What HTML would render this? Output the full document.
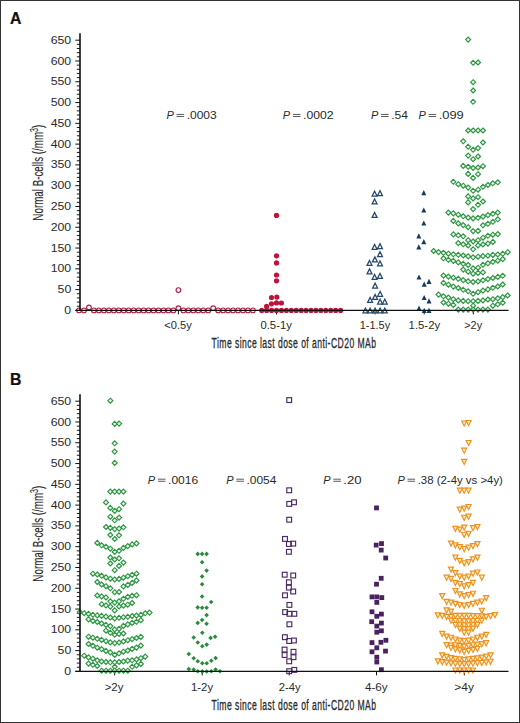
<!DOCTYPE html>
<html><head><meta charset="utf-8"><title>B-cells</title>
<style>
html,body{margin:0;padding:0;background:#fff;}
body{width:520px;height:723px;overflow:hidden;}
#f{position:absolute;left:0;top:0;width:520px;height:723px;box-sizing:border-box;border:1px solid #333;}
svg{position:absolute;left:0;top:0;}
text{font-family:"Liberation Sans",sans-serif;}
</style></head>
<body><div id="f"></div>
<svg width="520" height="723" viewBox="0 0 520 723" font-family="Liberation Sans, sans-serif">
<text transform="translate(9.9 23.8) scale(0.97 1)" font-size="16.3" font-weight="bold" fill="#111" stroke="#111" stroke-width="0.25">A</text>
<line x1="75.3" y1="310.4" x2="80" y2="310.4" stroke="#111" stroke-width="1"/>
<line x1="76.8" y1="306.24" x2="80" y2="306.24" stroke="#111" stroke-width="0.95"/>
<line x1="76.8" y1="302.09" x2="80" y2="302.09" stroke="#111" stroke-width="0.95"/>
<line x1="76.8" y1="297.93" x2="80" y2="297.93" stroke="#111" stroke-width="0.95"/>
<line x1="76.8" y1="293.77" x2="80" y2="293.77" stroke="#111" stroke-width="0.95"/>
<line x1="75.3" y1="289.61" x2="80" y2="289.61" stroke="#111" stroke-width="1"/>
<line x1="76.8" y1="285.46" x2="80" y2="285.46" stroke="#111" stroke-width="0.95"/>
<line x1="76.8" y1="281.3" x2="80" y2="281.3" stroke="#111" stroke-width="0.95"/>
<line x1="76.8" y1="277.14" x2="80" y2="277.14" stroke="#111" stroke-width="0.95"/>
<line x1="76.8" y1="272.99" x2="80" y2="272.99" stroke="#111" stroke-width="0.95"/>
<line x1="75.3" y1="268.83" x2="80" y2="268.83" stroke="#111" stroke-width="1"/>
<line x1="76.8" y1="264.67" x2="80" y2="264.67" stroke="#111" stroke-width="0.95"/>
<line x1="76.8" y1="260.52" x2="80" y2="260.52" stroke="#111" stroke-width="0.95"/>
<line x1="76.8" y1="256.36" x2="80" y2="256.36" stroke="#111" stroke-width="0.95"/>
<line x1="76.8" y1="252.2" x2="80" y2="252.2" stroke="#111" stroke-width="0.95"/>
<line x1="75.3" y1="248.04" x2="80" y2="248.04" stroke="#111" stroke-width="1"/>
<line x1="76.8" y1="243.89" x2="80" y2="243.89" stroke="#111" stroke-width="0.95"/>
<line x1="76.8" y1="239.73" x2="80" y2="239.73" stroke="#111" stroke-width="0.95"/>
<line x1="76.8" y1="235.57" x2="80" y2="235.57" stroke="#111" stroke-width="0.95"/>
<line x1="76.8" y1="231.42" x2="80" y2="231.42" stroke="#111" stroke-width="0.95"/>
<line x1="75.3" y1="227.26" x2="80" y2="227.26" stroke="#111" stroke-width="1"/>
<line x1="76.8" y1="223.1" x2="80" y2="223.1" stroke="#111" stroke-width="0.95"/>
<line x1="76.8" y1="218.95" x2="80" y2="218.95" stroke="#111" stroke-width="0.95"/>
<line x1="76.8" y1="214.79" x2="80" y2="214.79" stroke="#111" stroke-width="0.95"/>
<line x1="76.8" y1="210.63" x2="80" y2="210.63" stroke="#111" stroke-width="0.95"/>
<line x1="75.3" y1="206.47" x2="80" y2="206.47" stroke="#111" stroke-width="1"/>
<line x1="76.8" y1="202.32" x2="80" y2="202.32" stroke="#111" stroke-width="0.95"/>
<line x1="76.8" y1="198.16" x2="80" y2="198.16" stroke="#111" stroke-width="0.95"/>
<line x1="76.8" y1="194" x2="80" y2="194" stroke="#111" stroke-width="0.95"/>
<line x1="76.8" y1="189.85" x2="80" y2="189.85" stroke="#111" stroke-width="0.95"/>
<line x1="75.3" y1="185.69" x2="80" y2="185.69" stroke="#111" stroke-width="1"/>
<line x1="76.8" y1="181.53" x2="80" y2="181.53" stroke="#111" stroke-width="0.95"/>
<line x1="76.8" y1="177.38" x2="80" y2="177.38" stroke="#111" stroke-width="0.95"/>
<line x1="76.8" y1="173.22" x2="80" y2="173.22" stroke="#111" stroke-width="0.95"/>
<line x1="76.8" y1="169.06" x2="80" y2="169.06" stroke="#111" stroke-width="0.95"/>
<line x1="75.3" y1="164.9" x2="80" y2="164.9" stroke="#111" stroke-width="1"/>
<line x1="76.8" y1="160.75" x2="80" y2="160.75" stroke="#111" stroke-width="0.95"/>
<line x1="76.8" y1="156.59" x2="80" y2="156.59" stroke="#111" stroke-width="0.95"/>
<line x1="76.8" y1="152.43" x2="80" y2="152.43" stroke="#111" stroke-width="0.95"/>
<line x1="76.8" y1="148.28" x2="80" y2="148.28" stroke="#111" stroke-width="0.95"/>
<line x1="75.3" y1="144.12" x2="80" y2="144.12" stroke="#111" stroke-width="1"/>
<line x1="76.8" y1="139.96" x2="80" y2="139.96" stroke="#111" stroke-width="0.95"/>
<line x1="76.8" y1="135.81" x2="80" y2="135.81" stroke="#111" stroke-width="0.95"/>
<line x1="76.8" y1="131.65" x2="80" y2="131.65" stroke="#111" stroke-width="0.95"/>
<line x1="76.8" y1="127.49" x2="80" y2="127.49" stroke="#111" stroke-width="0.95"/>
<line x1="75.3" y1="123.33" x2="80" y2="123.33" stroke="#111" stroke-width="1"/>
<line x1="76.8" y1="119.18" x2="80" y2="119.18" stroke="#111" stroke-width="0.95"/>
<line x1="76.8" y1="115.02" x2="80" y2="115.02" stroke="#111" stroke-width="0.95"/>
<line x1="76.8" y1="110.86" x2="80" y2="110.86" stroke="#111" stroke-width="0.95"/>
<line x1="76.8" y1="106.71" x2="80" y2="106.71" stroke="#111" stroke-width="0.95"/>
<line x1="75.3" y1="102.55" x2="80" y2="102.55" stroke="#111" stroke-width="1"/>
<line x1="76.8" y1="98.39" x2="80" y2="98.39" stroke="#111" stroke-width="0.95"/>
<line x1="76.8" y1="94.24" x2="80" y2="94.24" stroke="#111" stroke-width="0.95"/>
<line x1="76.8" y1="90.08" x2="80" y2="90.08" stroke="#111" stroke-width="0.95"/>
<line x1="76.8" y1="85.92" x2="80" y2="85.92" stroke="#111" stroke-width="0.95"/>
<line x1="75.3" y1="81.76" x2="80" y2="81.76" stroke="#111" stroke-width="1"/>
<line x1="76.8" y1="77.61" x2="80" y2="77.61" stroke="#111" stroke-width="0.95"/>
<line x1="76.8" y1="73.45" x2="80" y2="73.45" stroke="#111" stroke-width="0.95"/>
<line x1="76.8" y1="69.29" x2="80" y2="69.29" stroke="#111" stroke-width="0.95"/>
<line x1="76.8" y1="65.14" x2="80" y2="65.14" stroke="#111" stroke-width="0.95"/>
<line x1="75.3" y1="60.98" x2="80" y2="60.98" stroke="#111" stroke-width="1"/>
<line x1="76.8" y1="56.82" x2="80" y2="56.82" stroke="#111" stroke-width="0.95"/>
<line x1="76.8" y1="52.67" x2="80" y2="52.67" stroke="#111" stroke-width="0.95"/>
<line x1="76.8" y1="48.51" x2="80" y2="48.51" stroke="#111" stroke-width="0.95"/>
<line x1="76.8" y1="44.35" x2="80" y2="44.35" stroke="#111" stroke-width="0.95"/>
<line x1="75.3" y1="40.19" x2="80" y2="40.19" stroke="#111" stroke-width="1"/>
<text transform="translate(64.31 313.95) scale(1.16 1)" font-size="10.6" fill="#2a2a2a">0</text>
<text transform="translate(57.56 293.16) scale(1.16 1)" font-size="10.6" fill="#2a2a2a">50</text>
<text transform="translate(50.69 272.38) scale(1.16 1)" font-size="10.6" fill="#2a2a2a">100</text>
<text transform="translate(50.69 251.59) scale(1.16 1)" font-size="10.6" fill="#2a2a2a">150</text>
<text transform="translate(50.69 230.81) scale(1.16 1)" font-size="10.6" fill="#2a2a2a">200</text>
<text transform="translate(50.69 210.02) scale(1.16 1)" font-size="10.6" fill="#2a2a2a">250</text>
<text transform="translate(50.69 189.24) scale(1.16 1)" font-size="10.6" fill="#2a2a2a">300</text>
<text transform="translate(50.69 168.45) scale(1.16 1)" font-size="10.6" fill="#2a2a2a">350</text>
<text transform="translate(50.69 147.67) scale(1.16 1)" font-size="10.6" fill="#2a2a2a">400</text>
<text transform="translate(50.69 126.88) scale(1.16 1)" font-size="10.6" fill="#2a2a2a">450</text>
<text transform="translate(50.69 106.1) scale(1.16 1)" font-size="10.6" fill="#2a2a2a">500</text>
<text transform="translate(50.69 85.31) scale(1.16 1)" font-size="10.6" fill="#2a2a2a">550</text>
<text transform="translate(50.69 64.53) scale(1.16 1)" font-size="10.6" fill="#2a2a2a">600</text>
<text transform="translate(50.69 43.74) scale(1.16 1)" font-size="10.6" fill="#2a2a2a">650</text>
<line x1="178.4" y1="310.4" x2="178.4" y2="314.4" stroke="#111" stroke-width="1"/>
<line x1="276.5" y1="310.4" x2="276.5" y2="314.4" stroke="#111" stroke-width="1"/>
<line x1="375" y1="310.4" x2="375" y2="314.4" stroke="#111" stroke-width="1"/>
<line x1="424.2" y1="310.4" x2="424.2" y2="314.4" stroke="#111" stroke-width="1"/>
<line x1="473.3" y1="310.4" x2="473.3" y2="314.4" stroke="#111" stroke-width="1"/>
<text transform="translate(164.26 329.1) scale(1.048 1)" font-size="10.6" fill="#2a2a2a">&lt;0.5y</text>
<text transform="translate(260.46 329.1) scale(1.066 1)" font-size="10.6" fill="#2a2a2a">0.5-1y</text>
<text transform="translate(359.74 329.1) scale(1.032 1)" font-size="10.6" fill="#2a2a2a">1-1.5y</text>
<text transform="translate(408.61 329.1) scale(1.071 1)" font-size="10.6" fill="#2a2a2a">1.5-2y</text>
<text transform="translate(464.27 329.1) scale(1.028 1)" font-size="10.6" fill="#2a2a2a">&gt;2y</text>
<text transform="translate(211.6 348.3) scale(0.61 1)" font-size="14.1" letter-spacing="0.72" stroke="#2a2a2a" stroke-width="0.3" fill="#2a2a2a">Time since last dose of anti-CD20 MAb</text>
<text transform="translate(42.9 172.7) rotate(-90) scale(0.70 1)" text-anchor="middle" font-size="14" stroke="#2a2a2a" stroke-width="0.15" fill="#2a2a2a">Normal B-cells (/mm<tspan dy="-4.6" font-size="10">3</tspan><tspan dy="4.6">)</tspan></text>
<text transform="translate(166.38 118.7) scale(1.037 1)" font-size="10.6" fill="#2a2a2a"><tspan font-style="italic">P</tspan></text>
<rect x="176.5" y="113.95" width="7.6" height="0.8" fill="#333"/>
<rect x="176.5" y="116" width="7.6" height="0.8" fill="#333"/>
<text transform="translate(186.64 118.7) scale(1.137 1)" font-size="10.6" fill="#2a2a2a">.0003</text>
<text transform="translate(282.78 118.7) scale(1.037 1)" font-size="10.6" fill="#2a2a2a"><tspan font-style="italic">P</tspan></text>
<rect x="292.9" y="113.95" width="7.6" height="0.8" fill="#333"/>
<rect x="292.9" y="116" width="7.6" height="0.8" fill="#333"/>
<text transform="translate(303.02 118.7) scale(1.150 1)" font-size="10.6" fill="#2a2a2a">.0002</text>
<text transform="translate(370.88 118.7) scale(1.037 1)" font-size="10.6" fill="#2a2a2a"><tspan font-style="italic">P</tspan></text>
<rect x="381" y="113.95" width="7.6" height="0.8" fill="#333"/>
<rect x="381" y="116" width="7.6" height="0.8" fill="#333"/>
<text transform="translate(391.13 118.7) scale(1.140 1)" font-size="10.6" fill="#2a2a2a">.54</text>
<text transform="translate(418.48 118.7) scale(1.037 1)" font-size="10.6" fill="#2a2a2a"><tspan font-style="italic">P</tspan></text>
<rect x="428.6" y="113.95" width="7.6" height="0.8" fill="#333"/>
<rect x="428.6" y="116" width="7.6" height="0.8" fill="#333"/>
<text transform="translate(438.66 118.7) scale(1.217 1)" font-size="10.6" fill="#2a2a2a">.099</text>
<circle cx="79" cy="310.4" r="2.35" fill="none" stroke="#b01c44" stroke-width="1.1"/>
<circle cx="83.97" cy="310.4" r="2.35" fill="none" stroke="#b01c44" stroke-width="1.1"/>
<circle cx="88.94" cy="307.5" r="2.35" fill="none" stroke="#b01c44" stroke-width="1.1"/>
<circle cx="93.91" cy="310.4" r="2.35" fill="none" stroke="#b01c44" stroke-width="1.1"/>
<circle cx="98.88" cy="310.4" r="2.35" fill="none" stroke="#b01c44" stroke-width="1.1"/>
<circle cx="103.85" cy="310.4" r="2.35" fill="none" stroke="#b01c44" stroke-width="1.1"/>
<circle cx="108.82" cy="310.4" r="2.35" fill="none" stroke="#b01c44" stroke-width="1.1"/>
<circle cx="113.79" cy="310.4" r="2.35" fill="none" stroke="#b01c44" stroke-width="1.1"/>
<circle cx="118.76" cy="310.4" r="2.35" fill="none" stroke="#b01c44" stroke-width="1.1"/>
<circle cx="123.73" cy="310.4" r="2.35" fill="none" stroke="#b01c44" stroke-width="1.1"/>
<circle cx="128.7" cy="310.4" r="2.35" fill="none" stroke="#b01c44" stroke-width="1.1"/>
<circle cx="133.67" cy="310.4" r="2.35" fill="none" stroke="#b01c44" stroke-width="1.1"/>
<circle cx="138.64" cy="310.4" r="2.35" fill="none" stroke="#b01c44" stroke-width="1.1"/>
<circle cx="143.61" cy="310.4" r="2.35" fill="none" stroke="#b01c44" stroke-width="1.1"/>
<circle cx="148.58" cy="310.4" r="2.35" fill="none" stroke="#b01c44" stroke-width="1.1"/>
<circle cx="153.55" cy="310.4" r="2.35" fill="none" stroke="#b01c44" stroke-width="1.1"/>
<circle cx="158.52" cy="310.4" r="2.35" fill="none" stroke="#b01c44" stroke-width="1.1"/>
<circle cx="163.49" cy="310.4" r="2.35" fill="none" stroke="#b01c44" stroke-width="1.1"/>
<circle cx="168.46" cy="310.4" r="2.35" fill="none" stroke="#b01c44" stroke-width="1.1"/>
<circle cx="173.43" cy="310.4" r="2.35" fill="none" stroke="#b01c44" stroke-width="1.1"/>
<circle cx="178.4" cy="308.2" r="2.35" fill="none" stroke="#b01c44" stroke-width="1.1"/>
<circle cx="183.37" cy="310.4" r="2.35" fill="none" stroke="#b01c44" stroke-width="1.1"/>
<circle cx="188.34" cy="310.4" r="2.35" fill="none" stroke="#b01c44" stroke-width="1.1"/>
<circle cx="193.31" cy="310.4" r="2.35" fill="none" stroke="#b01c44" stroke-width="1.1"/>
<circle cx="198.28" cy="310.4" r="2.35" fill="none" stroke="#b01c44" stroke-width="1.1"/>
<circle cx="203.25" cy="310.4" r="2.35" fill="none" stroke="#b01c44" stroke-width="1.1"/>
<circle cx="208.22" cy="310.4" r="2.35" fill="none" stroke="#b01c44" stroke-width="1.1"/>
<circle cx="213.19" cy="308.2" r="2.35" fill="none" stroke="#b01c44" stroke-width="1.1"/>
<circle cx="218.16" cy="310.4" r="2.35" fill="none" stroke="#b01c44" stroke-width="1.1"/>
<circle cx="223.13" cy="310.4" r="2.35" fill="none" stroke="#b01c44" stroke-width="1.1"/>
<circle cx="228.1" cy="310.4" r="2.35" fill="none" stroke="#b01c44" stroke-width="1.1"/>
<circle cx="233.07" cy="310.4" r="2.35" fill="none" stroke="#b01c44" stroke-width="1.1"/>
<circle cx="238.04" cy="310.4" r="2.35" fill="none" stroke="#b01c44" stroke-width="1.1"/>
<circle cx="243.01" cy="310.4" r="2.35" fill="none" stroke="#b01c44" stroke-width="1.1"/>
<circle cx="247.98" cy="310.4" r="2.35" fill="none" stroke="#b01c44" stroke-width="1.1"/>
<circle cx="252.95" cy="310.4" r="2.35" fill="none" stroke="#b01c44" stroke-width="1.1"/>
<circle cx="178.4" cy="290.1" r="2.35" fill="none" stroke="#b01c44" stroke-width="1.1"/>
<circle cx="261.71" cy="310.4" r="2.6" fill="#c0123a"/>
<circle cx="266.64" cy="310.4" r="2.6" fill="#c0123a"/>
<circle cx="271.57" cy="310.4" r="2.6" fill="#c0123a"/>
<circle cx="276.5" cy="310.4" r="2.6" fill="#c0123a"/>
<circle cx="281.43" cy="310.4" r="2.6" fill="#c0123a"/>
<circle cx="286.36" cy="310.4" r="2.6" fill="#c0123a"/>
<circle cx="291.29" cy="310.4" r="2.6" fill="#c0123a"/>
<circle cx="296.22" cy="310.4" r="2.6" fill="#c0123a"/>
<circle cx="301.15" cy="310.4" r="2.6" fill="#c0123a"/>
<circle cx="306.08" cy="310.4" r="2.6" fill="#c0123a"/>
<circle cx="311.01" cy="310.4" r="2.6" fill="#c0123a"/>
<circle cx="315.94" cy="310.4" r="2.6" fill="#c0123a"/>
<circle cx="320.87" cy="310.4" r="2.6" fill="#c0123a"/>
<circle cx="325.8" cy="310.4" r="2.6" fill="#c0123a"/>
<circle cx="330.73" cy="310.4" r="2.6" fill="#c0123a"/>
<circle cx="335.66" cy="310.4" r="2.6" fill="#c0123a"/>
<circle cx="340.59" cy="310.4" r="2.6" fill="#c0123a"/>
<circle cx="276.5" cy="215.4" r="2.6" fill="#c0123a"/>
<circle cx="276.5" cy="255.8" r="2.6" fill="#c0123a"/>
<circle cx="276.5" cy="262.9" r="2.6" fill="#c0123a"/>
<circle cx="276.5" cy="275" r="2.6" fill="#c0123a"/>
<circle cx="276.5" cy="280.8" r="2.6" fill="#c0123a"/>
<circle cx="271.5" cy="297.5" r="2.6" fill="#c0123a"/>
<circle cx="276.8" cy="297.1" r="2.6" fill="#c0123a"/>
<circle cx="271.5" cy="303.8" r="2.6" fill="#c0123a"/>
<circle cx="276.5" cy="302.9" r="2.6" fill="#c0123a"/>
<circle cx="281.4" cy="303" r="2.6" fill="#c0123a"/>
<circle cx="266.6" cy="306.4" r="2.6" fill="#c0123a"/>
<path d="M372.15 196.05L374.6 191.15L377.05 196.05Z" fill="none" stroke="#25486b" stroke-width="1.25" stroke-linejoin="miter"/>
<path d="M377.55 195.65L380 190.75L382.45 195.65Z" fill="none" stroke="#25486b" stroke-width="1.25" stroke-linejoin="miter"/>
<path d="M372.15 203.75L374.6 198.85L377.05 203.75Z" fill="none" stroke="#25486b" stroke-width="1.25" stroke-linejoin="miter"/>
<path d="M372.15 217.35L374.6 212.45L377.05 217.35Z" fill="none" stroke="#25486b" stroke-width="1.25" stroke-linejoin="miter"/>
<path d="M372.15 249.25L374.6 244.35L377.05 249.25Z" fill="none" stroke="#25486b" stroke-width="1.25" stroke-linejoin="miter"/>
<path d="M377.55 248.65L380 243.75L382.45 248.65Z" fill="none" stroke="#25486b" stroke-width="1.25" stroke-linejoin="miter"/>
<path d="M377.55 256.65L380 251.75L382.45 256.65Z" fill="none" stroke="#25486b" stroke-width="1.25" stroke-linejoin="miter"/>
<path d="M367.05 265.35L369.5 260.45L371.95 265.35Z" fill="none" stroke="#25486b" stroke-width="1.25" stroke-linejoin="miter"/>
<path d="M372.45 261.85L374.9 256.95L377.35 261.85Z" fill="none" stroke="#25486b" stroke-width="1.25" stroke-linejoin="miter"/>
<path d="M377.55 265.75L380 260.85L382.45 265.75Z" fill="none" stroke="#25486b" stroke-width="1.25" stroke-linejoin="miter"/>
<path d="M367.05 273.85L369.5 268.95L371.95 273.85Z" fill="none" stroke="#25486b" stroke-width="1.25" stroke-linejoin="miter"/>
<path d="M372.15 279.25L374.6 274.35L377.05 279.25Z" fill="none" stroke="#25486b" stroke-width="1.25" stroke-linejoin="miter"/>
<path d="M377.55 278.35L380 273.45L382.45 278.35Z" fill="none" stroke="#25486b" stroke-width="1.25" stroke-linejoin="miter"/>
<path d="M372.65 288.05L375.1 283.15L377.55 288.05Z" fill="none" stroke="#25486b" stroke-width="1.25" stroke-linejoin="miter"/>
<path d="M377.65 296.25L380.1 291.35L382.55 296.25Z" fill="none" stroke="#25486b" stroke-width="1.25" stroke-linejoin="miter"/>
<path d="M372.65 299.35L375.1 294.45L377.55 299.35Z" fill="none" stroke="#25486b" stroke-width="1.25" stroke-linejoin="miter"/>
<path d="M367.65 302.35L370.1 297.45L372.55 302.35Z" fill="none" stroke="#25486b" stroke-width="1.25" stroke-linejoin="miter"/>
<path d="M377.65 304.05L380.1 299.15L382.55 304.05Z" fill="none" stroke="#25486b" stroke-width="1.25" stroke-linejoin="miter"/>
<path d="M382.35 304.05L384.8 299.15L387.25 304.05Z" fill="none" stroke="#25486b" stroke-width="1.25" stroke-linejoin="miter"/>
<path d="M362.95 312.95L365.4 308.05L367.85 312.95Z" fill="none" stroke="#25486b" stroke-width="1.25" stroke-linejoin="miter"/>
<path d="M367.65 312.95L370.1 308.05L372.55 312.95Z" fill="none" stroke="#25486b" stroke-width="1.25" stroke-linejoin="miter"/>
<path d="M372.65 312.95L375.1 308.05L377.55 312.95Z" fill="none" stroke="#25486b" stroke-width="1.25" stroke-linejoin="miter"/>
<path d="M377.65 312.95L380.1 308.05L382.55 312.95Z" fill="none" stroke="#25486b" stroke-width="1.25" stroke-linejoin="miter"/>
<path d="M382.35 312.95L384.8 308.05L387.25 312.95Z" fill="none" stroke="#25486b" stroke-width="1.25" stroke-linejoin="miter"/>
<path d="M421.3 195.2L423.8 190L426.3 195.2Z" fill="#163a5c"/>
<path d="M421.3 212.6L423.8 207.4L426.3 212.6Z" fill="#163a5c"/>
<path d="M421.3 225.6L423.8 220.4L426.3 225.6Z" fill="#163a5c"/>
<path d="M416.3 238.4L418.8 233.2L421.3 238.4Z" fill="#163a5c"/>
<path d="M421.3 244.2L423.8 239L426.3 244.2Z" fill="#163a5c"/>
<path d="M416.3 249.4L418.8 244.2L421.3 249.4Z" fill="#163a5c"/>
<path d="M416.5 279.6L419 274.4L421.5 279.6Z" fill="#163a5c"/>
<path d="M421.7 286.7L424.2 281.5L426.7 286.7Z" fill="#163a5c"/>
<path d="M426.5 283.9L429 278.7L431.5 283.9Z" fill="#163a5c"/>
<path d="M421.7 300.1L424.2 294.9L426.7 300.1Z" fill="#163a5c"/>
<path d="M426.5 303.5L429 298.3L431.5 303.5Z" fill="#163a5c"/>
<path d="M416.5 310.7L419 305.5L421.5 310.7Z" fill="#163a5c"/>
<path d="M421.7 313L424.2 307.8L426.7 313Z" fill="#163a5c"/>
<path d="M426.5 313L429 307.8L431.5 313Z" fill="#163a5c"/>
<path d="M468.16 37.1L470.66 39.6L468.16 42.1L465.66 39.6Z" fill="#e4f6e4" stroke="#2e9444" stroke-width="1.15"/>
<path d="M473.1 60.3L475.6 62.8L473.1 65.3L470.6 62.8Z" fill="#e4f6e4" stroke="#2e9444" stroke-width="1.15"/>
<path d="M478.04 60L480.54 62.5L478.04 65L475.54 62.5Z" fill="#e4f6e4" stroke="#2e9444" stroke-width="1.15"/>
<path d="M473.1 79.7L475.6 82.2L473.1 84.7L470.6 82.2Z" fill="#e4f6e4" stroke="#2e9444" stroke-width="1.15"/>
<path d="M473.1 88L475.6 90.5L473.1 93L470.6 90.5Z" fill="#e4f6e4" stroke="#2e9444" stroke-width="1.15"/>
<path d="M473.1 99.3L475.6 101.8L473.1 104.3L470.6 101.8Z" fill="#e4f6e4" stroke="#2e9444" stroke-width="1.15"/>
<path d="M468.16 128L470.66 130.5L468.16 133L465.66 130.5Z" fill="#e4f6e4" stroke="#2e9444" stroke-width="1.15"/>
<path d="M473.1 128L475.6 130.5L473.1 133L470.6 130.5Z" fill="#e4f6e4" stroke="#2e9444" stroke-width="1.15"/>
<path d="M478.04 128L480.54 130.5L478.04 133L475.54 130.5Z" fill="#e4f6e4" stroke="#2e9444" stroke-width="1.15"/>
<path d="M482.98 128L485.48 130.5L482.98 133L480.48 130.5Z" fill="#e4f6e4" stroke="#2e9444" stroke-width="1.15"/>
<path d="M463.22 138.8L465.72 141.3L463.22 143.8L460.72 141.3Z" fill="#e4f6e4" stroke="#2e9444" stroke-width="1.15"/>
<path d="M482.98 140L485.48 142.5L482.98 145L480.48 142.5Z" fill="#e4f6e4" stroke="#2e9444" stroke-width="1.15"/>
<path d="M468.16 144.3L470.66 146.8L468.16 149.3L465.66 146.8Z" fill="#e4f6e4" stroke="#2e9444" stroke-width="1.15"/>
<path d="M473.1 147.3L475.6 149.8L473.1 152.3L470.6 149.8Z" fill="#e4f6e4" stroke="#2e9444" stroke-width="1.15"/>
<path d="M478.04 145.6L480.54 148.1L478.04 150.6L475.54 148.1Z" fill="#e4f6e4" stroke="#2e9444" stroke-width="1.15"/>
<path d="M468.16 153.1L470.66 155.6L468.16 158.1L465.66 155.6Z" fill="#e4f6e4" stroke="#2e9444" stroke-width="1.15"/>
<path d="M473.1 156.7L475.6 159.2L473.1 161.7L470.6 159.2Z" fill="#e4f6e4" stroke="#2e9444" stroke-width="1.15"/>
<path d="M478.04 154L480.54 156.5L478.04 159L475.54 156.5Z" fill="#e4f6e4" stroke="#2e9444" stroke-width="1.15"/>
<path d="M463.22 163.4L465.72 165.9L463.22 168.4L460.72 165.9Z" fill="#e4f6e4" stroke="#2e9444" stroke-width="1.15"/>
<path d="M468.16 164.3L470.66 166.8L468.16 169.3L465.66 166.8Z" fill="#e4f6e4" stroke="#2e9444" stroke-width="1.15"/>
<path d="M473.1 165.5L475.6 168L473.1 170.5L470.6 168Z" fill="#e4f6e4" stroke="#2e9444" stroke-width="1.15"/>
<path d="M478.04 165L480.54 167.5L478.04 170L475.54 167.5Z" fill="#e4f6e4" stroke="#2e9444" stroke-width="1.15"/>
<path d="M482.98 163.7L485.48 166.2L482.98 168.7L480.48 166.2Z" fill="#e4f6e4" stroke="#2e9444" stroke-width="1.15"/>
<path d="M468.16 171.4L470.66 173.9L468.16 176.4L465.66 173.9Z" fill="#e4f6e4" stroke="#2e9444" stroke-width="1.15"/>
<path d="M478.04 171.7L480.54 174.2L478.04 176.7L475.54 174.2Z" fill="#e4f6e4" stroke="#2e9444" stroke-width="1.15"/>
<path d="M473.1 175.4L475.6 177.9L473.1 180.4L470.6 177.9Z" fill="#e4f6e4" stroke="#2e9444" stroke-width="1.15"/>
<path d="M453.34 179.3L455.84 181.8L453.34 184.3L450.84 181.8Z" fill="#e4f6e4" stroke="#2e9444" stroke-width="1.15"/>
<path d="M458.28 181.7L460.78 184.2L458.28 186.7L455.78 184.2Z" fill="#e4f6e4" stroke="#2e9444" stroke-width="1.15"/>
<path d="M463.22 183.2L465.72 185.7L463.22 188.2L460.72 185.7Z" fill="#e4f6e4" stroke="#2e9444" stroke-width="1.15"/>
<path d="M468.16 185.1L470.66 187.6L468.16 190.1L465.66 187.6Z" fill="#e4f6e4" stroke="#2e9444" stroke-width="1.15"/>
<path d="M473.1 188.3L475.6 190.8L473.1 193.3L470.6 190.8Z" fill="#e4f6e4" stroke="#2e9444" stroke-width="1.15"/>
<path d="M478.04 187.2L480.54 189.7L478.04 192.2L475.54 189.7Z" fill="#e4f6e4" stroke="#2e9444" stroke-width="1.15"/>
<path d="M482.98 184.3L485.48 186.8L482.98 189.3L480.48 186.8Z" fill="#e4f6e4" stroke="#2e9444" stroke-width="1.15"/>
<path d="M487.92 182.5L490.42 185L487.92 187.5L485.42 185Z" fill="#e4f6e4" stroke="#2e9444" stroke-width="1.15"/>
<path d="M492.86 180.8L495.36 183.3L492.86 185.8L490.36 183.3Z" fill="#e4f6e4" stroke="#2e9444" stroke-width="1.15"/>
<path d="M497.8 179.8L500.3 182.3L497.8 184.8L495.3 182.3Z" fill="#e4f6e4" stroke="#2e9444" stroke-width="1.15"/>
<path d="M468.16 193.9L470.66 196.4L468.16 198.9L465.66 196.4Z" fill="#e4f6e4" stroke="#2e9444" stroke-width="1.15"/>
<path d="M473.1 195.9L475.6 198.4L473.1 200.9L470.6 198.4Z" fill="#e4f6e4" stroke="#2e9444" stroke-width="1.15"/>
<path d="M478.04 194.7L480.54 197.2L478.04 199.7L475.54 197.2Z" fill="#e4f6e4" stroke="#2e9444" stroke-width="1.15"/>
<path d="M468.16 199.9L470.66 202.4L468.16 204.9L465.66 202.4Z" fill="#e4f6e4" stroke="#2e9444" stroke-width="1.15"/>
<path d="M478.04 202.3L480.54 204.8L478.04 207.3L475.54 204.8Z" fill="#e4f6e4" stroke="#2e9444" stroke-width="1.15"/>
<path d="M482.98 199L485.48 201.5L482.98 204L480.48 201.5Z" fill="#e4f6e4" stroke="#2e9444" stroke-width="1.15"/>
<path d="M473.1 206.6L475.6 209.1L473.1 211.6L470.6 209.1Z" fill="#e4f6e4" stroke="#2e9444" stroke-width="1.15"/>
<path d="M448.4 210.1L450.9 212.6L448.4 215.1L445.9 212.6Z" fill="#e4f6e4" stroke="#2e9444" stroke-width="1.15"/>
<path d="M453.34 210.9L455.84 213.4L453.34 215.9L450.84 213.4Z" fill="#e4f6e4" stroke="#2e9444" stroke-width="1.15"/>
<path d="M458.28 212.2L460.78 214.7L458.28 217.2L455.78 214.7Z" fill="#e4f6e4" stroke="#2e9444" stroke-width="1.15"/>
<path d="M463.22 213.8L465.72 216.3L463.22 218.8L460.72 216.3Z" fill="#e4f6e4" stroke="#2e9444" stroke-width="1.15"/>
<path d="M468.16 215.1L470.66 217.6L468.16 220.1L465.66 217.6Z" fill="#e4f6e4" stroke="#2e9444" stroke-width="1.15"/>
<path d="M473.1 215.9L475.6 218.4L473.1 220.9L470.6 218.4Z" fill="#e4f6e4" stroke="#2e9444" stroke-width="1.15"/>
<path d="M478.04 215.3L480.54 217.8L478.04 220.3L475.54 217.8Z" fill="#e4f6e4" stroke="#2e9444" stroke-width="1.15"/>
<path d="M482.98 214.1L485.48 216.6L482.98 219.1L480.48 216.6Z" fill="#e4f6e4" stroke="#2e9444" stroke-width="1.15"/>
<path d="M487.92 212.6L490.42 215.1L487.92 217.6L485.42 215.1Z" fill="#e4f6e4" stroke="#2e9444" stroke-width="1.15"/>
<path d="M492.86 211.3L495.36 213.8L492.86 216.3L490.36 213.8Z" fill="#e4f6e4" stroke="#2e9444" stroke-width="1.15"/>
<path d="M497.8 210.1L500.3 212.6L497.8 215.1L495.3 212.6Z" fill="#e4f6e4" stroke="#2e9444" stroke-width="1.15"/>
<path d="M453.34 218.4L455.84 220.9L453.34 223.4L450.84 220.9Z" fill="#e4f6e4" stroke="#2e9444" stroke-width="1.15"/>
<path d="M458.28 220.9L460.78 223.4L458.28 225.9L455.78 223.4Z" fill="#e4f6e4" stroke="#2e9444" stroke-width="1.15"/>
<path d="M463.22 222.6L465.72 225.1L463.22 227.6L460.72 225.1Z" fill="#e4f6e4" stroke="#2e9444" stroke-width="1.15"/>
<path d="M468.16 224.7L470.66 227.2L468.16 229.7L465.66 227.2Z" fill="#e4f6e4" stroke="#2e9444" stroke-width="1.15"/>
<path d="M473.1 228.6L475.6 231.1L473.1 233.6L470.6 231.1Z" fill="#e4f6e4" stroke="#2e9444" stroke-width="1.15"/>
<path d="M478.04 228.4L480.54 230.9L478.04 233.4L475.54 230.9Z" fill="#e4f6e4" stroke="#2e9444" stroke-width="1.15"/>
<path d="M482.98 222.8L485.48 225.3L482.98 227.8L480.48 225.3Z" fill="#e4f6e4" stroke="#2e9444" stroke-width="1.15"/>
<path d="M487.92 221.3L490.42 223.8L487.92 226.3L485.42 223.8Z" fill="#e4f6e4" stroke="#2e9444" stroke-width="1.15"/>
<path d="M492.86 219.3L495.36 221.8L492.86 224.3L490.36 221.8Z" fill="#e4f6e4" stroke="#2e9444" stroke-width="1.15"/>
<path d="M497.8 216.8L500.3 219.3L497.8 221.8L495.3 219.3Z" fill="#e4f6e4" stroke="#2e9444" stroke-width="1.15"/>
<path d="M453.34 231.9L455.84 234.4L453.34 236.9L450.84 234.4Z" fill="#e4f6e4" stroke="#2e9444" stroke-width="1.15"/>
<path d="M458.28 232.8L460.78 235.3L458.28 237.8L455.78 235.3Z" fill="#e4f6e4" stroke="#2e9444" stroke-width="1.15"/>
<path d="M463.22 233.8L465.72 236.3L463.22 238.8L460.72 236.3Z" fill="#e4f6e4" stroke="#2e9444" stroke-width="1.15"/>
<path d="M482.98 235.2L485.48 237.7L482.98 240.2L480.48 237.7Z" fill="#e4f6e4" stroke="#2e9444" stroke-width="1.15"/>
<path d="M487.92 233.3L490.42 235.8L487.92 238.3L485.42 235.8Z" fill="#e4f6e4" stroke="#2e9444" stroke-width="1.15"/>
<path d="M492.86 232.2L495.36 234.7L492.86 237.2L490.36 234.7Z" fill="#e4f6e4" stroke="#2e9444" stroke-width="1.15"/>
<path d="M497.8 231.6L500.3 234.1L497.8 236.6L495.3 234.1Z" fill="#e4f6e4" stroke="#2e9444" stroke-width="1.15"/>
<path d="M468.16 237.7L470.66 240.2L468.16 242.7L465.66 240.2Z" fill="#e4f6e4" stroke="#2e9444" stroke-width="1.15"/>
<path d="M473.1 239L475.6 241.5L473.1 244L470.6 241.5Z" fill="#e4f6e4" stroke="#2e9444" stroke-width="1.15"/>
<path d="M478.04 237.7L480.54 240.2L478.04 242.7L475.54 240.2Z" fill="#e4f6e4" stroke="#2e9444" stroke-width="1.15"/>
<path d="M458.28 240.6L460.78 243.1L458.28 245.6L455.78 243.1Z" fill="#e4f6e4" stroke="#2e9444" stroke-width="1.15"/>
<path d="M463.22 241.8L465.72 244.3L463.22 246.8L460.72 244.3Z" fill="#e4f6e4" stroke="#2e9444" stroke-width="1.15"/>
<path d="M468.16 243L470.66 245.5L468.16 248L465.66 245.5Z" fill="#e4f6e4" stroke="#2e9444" stroke-width="1.15"/>
<path d="M478.04 242.9L480.54 245.4L478.04 247.9L475.54 245.4Z" fill="#e4f6e4" stroke="#2e9444" stroke-width="1.15"/>
<path d="M482.98 242L485.48 244.5L482.98 247L480.48 244.5Z" fill="#e4f6e4" stroke="#2e9444" stroke-width="1.15"/>
<path d="M487.92 241.1L490.42 243.6L487.92 246.1L485.42 243.6Z" fill="#e4f6e4" stroke="#2e9444" stroke-width="1.15"/>
<path d="M492.86 239.4L495.36 241.9L492.86 244.4L490.36 241.9Z" fill="#e4f6e4" stroke="#2e9444" stroke-width="1.15"/>
<path d="M473.1 246.8L475.6 249.3L473.1 251.8L470.6 249.3Z" fill="#e4f6e4" stroke="#2e9444" stroke-width="1.15"/>
<path d="M433.58 248.5L436.08 251L433.58 253.5L431.08 251Z" fill="#e4f6e4" stroke="#2e9444" stroke-width="1.15"/>
<path d="M438.52 249.6L441.02 252.1L438.52 254.6L436.02 252.1Z" fill="#e4f6e4" stroke="#2e9444" stroke-width="1.15"/>
<path d="M443.46 250.3L445.96 252.8L443.46 255.3L440.96 252.8Z" fill="#e4f6e4" stroke="#2e9444" stroke-width="1.15"/>
<path d="M448.4 251.2L450.9 253.7L448.4 256.2L445.9 253.7Z" fill="#e4f6e4" stroke="#2e9444" stroke-width="1.15"/>
<path d="M453.34 251.8L455.84 254.3L453.34 256.8L450.84 254.3Z" fill="#e4f6e4" stroke="#2e9444" stroke-width="1.15"/>
<path d="M458.28 252.3L460.78 254.8L458.28 257.3L455.78 254.8Z" fill="#e4f6e4" stroke="#2e9444" stroke-width="1.15"/>
<path d="M463.22 253L465.72 255.5L463.22 258L460.72 255.5Z" fill="#e4f6e4" stroke="#2e9444" stroke-width="1.15"/>
<path d="M468.16 253.9L470.66 256.4L468.16 258.9L465.66 256.4Z" fill="#e4f6e4" stroke="#2e9444" stroke-width="1.15"/>
<path d="M473.1 254.8L475.6 257.3L473.1 259.8L470.6 257.3Z" fill="#e4f6e4" stroke="#2e9444" stroke-width="1.15"/>
<path d="M478.04 254.2L480.54 256.7L478.04 259.2L475.54 256.7Z" fill="#e4f6e4" stroke="#2e9444" stroke-width="1.15"/>
<path d="M482.98 253.6L485.48 256.1L482.98 258.6L480.48 256.1Z" fill="#e4f6e4" stroke="#2e9444" stroke-width="1.15"/>
<path d="M487.92 253.2L490.42 255.7L487.92 258.2L485.42 255.7Z" fill="#e4f6e4" stroke="#2e9444" stroke-width="1.15"/>
<path d="M492.86 252.4L495.36 254.9L492.86 257.4L490.36 254.9Z" fill="#e4f6e4" stroke="#2e9444" stroke-width="1.15"/>
<path d="M497.8 252L500.3 254.5L497.8 257L495.3 254.5Z" fill="#e4f6e4" stroke="#2e9444" stroke-width="1.15"/>
<path d="M502.74 251.3L505.24 253.8L502.74 256.3L500.24 253.8Z" fill="#e4f6e4" stroke="#2e9444" stroke-width="1.15"/>
<path d="M507.68 249.7L510.18 252.2L507.68 254.7L505.18 252.2Z" fill="#e4f6e4" stroke="#2e9444" stroke-width="1.15"/>
<path d="M443.46 255.8L445.96 258.3L443.46 260.8L440.96 258.3Z" fill="#e4f6e4" stroke="#2e9444" stroke-width="1.15"/>
<path d="M448.4 257.3L450.9 259.8L448.4 262.3L445.9 259.8Z" fill="#e4f6e4" stroke="#2e9444" stroke-width="1.15"/>
<path d="M453.34 258.4L455.84 260.9L453.34 263.4L450.84 260.9Z" fill="#e4f6e4" stroke="#2e9444" stroke-width="1.15"/>
<path d="M458.28 259.9L460.78 262.4L458.28 264.9L455.78 262.4Z" fill="#e4f6e4" stroke="#2e9444" stroke-width="1.15"/>
<path d="M463.22 261.3L465.72 263.8L463.22 266.3L460.72 263.8Z" fill="#e4f6e4" stroke="#2e9444" stroke-width="1.15"/>
<path d="M468.16 262.5L470.66 265L468.16 267.5L465.66 265Z" fill="#e4f6e4" stroke="#2e9444" stroke-width="1.15"/>
<path d="M473.1 265.8L475.6 268.3L473.1 270.8L470.6 268.3Z" fill="#e4f6e4" stroke="#2e9444" stroke-width="1.15"/>
<path d="M478.04 265.2L480.54 267.7L478.04 270.2L475.54 267.7Z" fill="#e4f6e4" stroke="#2e9444" stroke-width="1.15"/>
<path d="M482.98 262.3L485.48 264.8L482.98 267.3L480.48 264.8Z" fill="#e4f6e4" stroke="#2e9444" stroke-width="1.15"/>
<path d="M487.92 260.8L490.42 263.3L487.92 265.8L485.42 263.3Z" fill="#e4f6e4" stroke="#2e9444" stroke-width="1.15"/>
<path d="M492.86 259.3L495.36 261.8L492.86 264.3L490.36 261.8Z" fill="#e4f6e4" stroke="#2e9444" stroke-width="1.15"/>
<path d="M497.8 258.2L500.3 260.7L497.8 263.2L495.3 260.7Z" fill="#e4f6e4" stroke="#2e9444" stroke-width="1.15"/>
<path d="M502.74 256.6L505.24 259.1L502.74 261.6L500.24 259.1Z" fill="#e4f6e4" stroke="#2e9444" stroke-width="1.15"/>
<path d="M463.22 267.1L465.72 269.6L463.22 272.1L460.72 269.6Z" fill="#e4f6e4" stroke="#2e9444" stroke-width="1.15"/>
<path d="M468.16 269.2L470.66 271.7L468.16 274.2L465.66 271.7Z" fill="#e4f6e4" stroke="#2e9444" stroke-width="1.15"/>
<path d="M473.1 271.2L475.6 273.7L473.1 276.2L470.6 273.7Z" fill="#e4f6e4" stroke="#2e9444" stroke-width="1.15"/>
<path d="M478.04 270.4L480.54 272.9L478.04 275.4L475.54 272.9Z" fill="#e4f6e4" stroke="#2e9444" stroke-width="1.15"/>
<path d="M482.98 269.9L485.48 272.4L482.98 274.9L480.48 272.4Z" fill="#e4f6e4" stroke="#2e9444" stroke-width="1.15"/>
<path d="M443.46 273.1L445.96 275.6L443.46 278.1L440.96 275.6Z" fill="#e4f6e4" stroke="#2e9444" stroke-width="1.15"/>
<path d="M448.4 274.1L450.9 276.6L448.4 279.1L445.9 276.6Z" fill="#e4f6e4" stroke="#2e9444" stroke-width="1.15"/>
<path d="M453.34 275.2L455.84 277.7L453.34 280.2L450.84 277.7Z" fill="#e4f6e4" stroke="#2e9444" stroke-width="1.15"/>
<path d="M458.28 276.3L460.78 278.8L458.28 281.3L455.78 278.8Z" fill="#e4f6e4" stroke="#2e9444" stroke-width="1.15"/>
<path d="M463.22 277.6L465.72 280.1L463.22 282.6L460.72 280.1Z" fill="#e4f6e4" stroke="#2e9444" stroke-width="1.15"/>
<path d="M468.16 278.8L470.66 281.3L468.16 283.8L465.66 281.3Z" fill="#e4f6e4" stroke="#2e9444" stroke-width="1.15"/>
<path d="M473.1 279.5L475.6 282L473.1 284.5L470.6 282Z" fill="#e4f6e4" stroke="#2e9444" stroke-width="1.15"/>
<path d="M478.04 278.9L480.54 281.4L478.04 283.9L475.54 281.4Z" fill="#e4f6e4" stroke="#2e9444" stroke-width="1.15"/>
<path d="M482.98 277.8L485.48 280.3L482.98 282.8L480.48 280.3Z" fill="#e4f6e4" stroke="#2e9444" stroke-width="1.15"/>
<path d="M487.92 276.6L490.42 279.1L487.92 281.6L485.42 279.1Z" fill="#e4f6e4" stroke="#2e9444" stroke-width="1.15"/>
<path d="M492.86 275.5L495.36 278L492.86 280.5L490.36 278Z" fill="#e4f6e4" stroke="#2e9444" stroke-width="1.15"/>
<path d="M497.8 274.4L500.3 276.9L497.8 279.4L495.3 276.9Z" fill="#e4f6e4" stroke="#2e9444" stroke-width="1.15"/>
<path d="M502.74 273.3L505.24 275.8L502.74 278.3L500.24 275.8Z" fill="#e4f6e4" stroke="#2e9444" stroke-width="1.15"/>
<path d="M443.46 280.4L445.96 282.9L443.46 285.4L440.96 282.9Z" fill="#e4f6e4" stroke="#2e9444" stroke-width="1.15"/>
<path d="M448.4 282.2L450.9 284.7L448.4 287.2L445.9 284.7Z" fill="#e4f6e4" stroke="#2e9444" stroke-width="1.15"/>
<path d="M453.34 284.1L455.84 286.6L453.34 289.1L450.84 286.6Z" fill="#e4f6e4" stroke="#2e9444" stroke-width="1.15"/>
<path d="M458.28 285.5L460.78 288L458.28 290.5L455.78 288Z" fill="#e4f6e4" stroke="#2e9444" stroke-width="1.15"/>
<path d="M463.22 287.3L465.72 289.8L463.22 292.3L460.72 289.8Z" fill="#e4f6e4" stroke="#2e9444" stroke-width="1.15"/>
<path d="M468.16 288.8L470.66 291.3L468.16 293.8L465.66 291.3Z" fill="#e4f6e4" stroke="#2e9444" stroke-width="1.15"/>
<path d="M473.1 291.3L475.6 293.8L473.1 296.3L470.6 293.8Z" fill="#e4f6e4" stroke="#2e9444" stroke-width="1.15"/>
<path d="M478.04 289.7L480.54 292.2L478.04 294.7L475.54 292.2Z" fill="#e4f6e4" stroke="#2e9444" stroke-width="1.15"/>
<path d="M482.98 288.1L485.48 290.6L482.98 293.1L480.48 290.6Z" fill="#e4f6e4" stroke="#2e9444" stroke-width="1.15"/>
<path d="M487.92 286.9L490.42 289.4L487.92 291.9L485.42 289.4Z" fill="#e4f6e4" stroke="#2e9444" stroke-width="1.15"/>
<path d="M492.86 285.3L495.36 287.8L492.86 290.3L490.36 287.8Z" fill="#e4f6e4" stroke="#2e9444" stroke-width="1.15"/>
<path d="M497.8 284L500.3 286.5L497.8 289L495.3 286.5Z" fill="#e4f6e4" stroke="#2e9444" stroke-width="1.15"/>
<path d="M502.74 282L505.24 284.5L502.74 287L500.24 284.5Z" fill="#e4f6e4" stroke="#2e9444" stroke-width="1.15"/>
<path d="M438.52 292.1L441.02 294.6L438.52 297.1L436.02 294.6Z" fill="#e4f6e4" stroke="#2e9444" stroke-width="1.15"/>
<path d="M443.46 293.8L445.96 296.3L443.46 298.8L440.96 296.3Z" fill="#e4f6e4" stroke="#2e9444" stroke-width="1.15"/>
<path d="M448.4 295.1L450.9 297.6L448.4 300.1L445.9 297.6Z" fill="#e4f6e4" stroke="#2e9444" stroke-width="1.15"/>
<path d="M453.34 296.7L455.84 299.2L453.34 301.7L450.84 299.2Z" fill="#e4f6e4" stroke="#2e9444" stroke-width="1.15"/>
<path d="M458.28 297.9L460.78 300.4L458.28 302.9L455.78 300.4Z" fill="#e4f6e4" stroke="#2e9444" stroke-width="1.15"/>
<path d="M463.22 298.4L465.72 300.9L463.22 303.4L460.72 300.9Z" fill="#e4f6e4" stroke="#2e9444" stroke-width="1.15"/>
<path d="M468.16 298.7L470.66 301.2L468.16 303.7L465.66 301.2Z" fill="#e4f6e4" stroke="#2e9444" stroke-width="1.15"/>
<path d="M473.1 298.7L475.6 301.2L473.1 303.7L470.6 301.2Z" fill="#e4f6e4" stroke="#2e9444" stroke-width="1.15"/>
<path d="M478.04 298.4L480.54 300.9L478.04 303.4L475.54 300.9Z" fill="#e4f6e4" stroke="#2e9444" stroke-width="1.15"/>
<path d="M482.98 297.9L485.48 300.4L482.98 302.9L480.48 300.4Z" fill="#e4f6e4" stroke="#2e9444" stroke-width="1.15"/>
<path d="M487.92 297L490.42 299.5L487.92 302L485.42 299.5Z" fill="#e4f6e4" stroke="#2e9444" stroke-width="1.15"/>
<path d="M492.86 296.7L495.36 299.2L492.86 301.7L490.36 299.2Z" fill="#e4f6e4" stroke="#2e9444" stroke-width="1.15"/>
<path d="M497.8 295.8L500.3 298.3L497.8 300.8L495.3 298.3Z" fill="#e4f6e4" stroke="#2e9444" stroke-width="1.15"/>
<path d="M502.74 294.6L505.24 297.1L502.74 299.6L500.24 297.1Z" fill="#e4f6e4" stroke="#2e9444" stroke-width="1.15"/>
<path d="M507.68 293L510.18 295.5L507.68 298L505.18 295.5Z" fill="#e4f6e4" stroke="#2e9444" stroke-width="1.15"/>
<path d="M443.46 300L445.96 302.5L443.46 305L440.96 302.5Z" fill="#e4f6e4" stroke="#2e9444" stroke-width="1.15"/>
<path d="M448.4 301.2L450.9 303.7L448.4 306.2L445.9 303.7Z" fill="#e4f6e4" stroke="#2e9444" stroke-width="1.15"/>
<path d="M453.34 302.4L455.84 304.9L453.34 307.4L450.84 304.9Z" fill="#e4f6e4" stroke="#2e9444" stroke-width="1.15"/>
<path d="M473.1 303.2L475.6 305.7L473.1 308.2L470.6 305.7Z" fill="#e4f6e4" stroke="#2e9444" stroke-width="1.15"/>
<path d="M492.86 303.2L495.36 305.7L492.86 308.2L490.36 305.7Z" fill="#e4f6e4" stroke="#2e9444" stroke-width="1.15"/>
<path d="M497.8 301.8L500.3 304.3L497.8 306.8L495.3 304.3Z" fill="#e4f6e4" stroke="#2e9444" stroke-width="1.15"/>
<path d="M502.74 300.3L505.24 302.8L502.74 305.3L500.24 302.8Z" fill="#e4f6e4" stroke="#2e9444" stroke-width="1.15"/>
<path d="M458.28 307.1L460.78 309.6L458.28 312.1L455.78 309.6Z" fill="#e4f6e4" stroke="#2e9444" stroke-width="1.15"/>
<path d="M463.22 307.1L465.72 309.6L463.22 312.1L460.72 309.6Z" fill="#e4f6e4" stroke="#2e9444" stroke-width="1.15"/>
<path d="M468.16 307.1L470.66 309.6L468.16 312.1L465.66 309.6Z" fill="#e4f6e4" stroke="#2e9444" stroke-width="1.15"/>
<path d="M473.1 307.1L475.6 309.6L473.1 312.1L470.6 309.6Z" fill="#e4f6e4" stroke="#2e9444" stroke-width="1.15"/>
<path d="M478.04 307.1L480.54 309.6L478.04 312.1L475.54 309.6Z" fill="#e4f6e4" stroke="#2e9444" stroke-width="1.15"/>
<path d="M482.98 307.1L485.48 309.6L482.98 312.1L480.48 309.6Z" fill="#e4f6e4" stroke="#2e9444" stroke-width="1.15"/>
<path d="M487.92 307.1L490.42 309.6L487.92 312.1L485.42 309.6Z" fill="#e4f6e4" stroke="#2e9444" stroke-width="1.15"/>
<line x1="80" y1="33.2" x2="80" y2="311.1" stroke="#111" stroke-width="1.6"/>
<line x1="75.3" y1="310.3" x2="508.5" y2="310.3" stroke="#111" stroke-width="1.35"/>
<text transform="translate(9.9 385.1) scale(0.97 1)" font-size="16.3" font-weight="bold" fill="#111" stroke="#111" stroke-width="0.25">B</text>
<line x1="75.3" y1="671.4" x2="80" y2="671.4" stroke="#111" stroke-width="1"/>
<line x1="76.8" y1="667.24" x2="80" y2="667.24" stroke="#111" stroke-width="0.95"/>
<line x1="76.8" y1="663.09" x2="80" y2="663.09" stroke="#111" stroke-width="0.95"/>
<line x1="76.8" y1="658.93" x2="80" y2="658.93" stroke="#111" stroke-width="0.95"/>
<line x1="76.8" y1="654.77" x2="80" y2="654.77" stroke="#111" stroke-width="0.95"/>
<line x1="75.3" y1="650.62" x2="80" y2="650.62" stroke="#111" stroke-width="1"/>
<line x1="76.8" y1="646.46" x2="80" y2="646.46" stroke="#111" stroke-width="0.95"/>
<line x1="76.8" y1="642.3" x2="80" y2="642.3" stroke="#111" stroke-width="0.95"/>
<line x1="76.8" y1="638.14" x2="80" y2="638.14" stroke="#111" stroke-width="0.95"/>
<line x1="76.8" y1="633.99" x2="80" y2="633.99" stroke="#111" stroke-width="0.95"/>
<line x1="75.3" y1="629.83" x2="80" y2="629.83" stroke="#111" stroke-width="1"/>
<line x1="76.8" y1="625.67" x2="80" y2="625.67" stroke="#111" stroke-width="0.95"/>
<line x1="76.8" y1="621.52" x2="80" y2="621.52" stroke="#111" stroke-width="0.95"/>
<line x1="76.8" y1="617.36" x2="80" y2="617.36" stroke="#111" stroke-width="0.95"/>
<line x1="76.8" y1="613.2" x2="80" y2="613.2" stroke="#111" stroke-width="0.95"/>
<line x1="75.3" y1="609.04" x2="80" y2="609.04" stroke="#111" stroke-width="1"/>
<line x1="76.8" y1="604.89" x2="80" y2="604.89" stroke="#111" stroke-width="0.95"/>
<line x1="76.8" y1="600.73" x2="80" y2="600.73" stroke="#111" stroke-width="0.95"/>
<line x1="76.8" y1="596.57" x2="80" y2="596.57" stroke="#111" stroke-width="0.95"/>
<line x1="76.8" y1="592.42" x2="80" y2="592.42" stroke="#111" stroke-width="0.95"/>
<line x1="75.3" y1="588.26" x2="80" y2="588.26" stroke="#111" stroke-width="1"/>
<line x1="76.8" y1="584.1" x2="80" y2="584.1" stroke="#111" stroke-width="0.95"/>
<line x1="76.8" y1="579.95" x2="80" y2="579.95" stroke="#111" stroke-width="0.95"/>
<line x1="76.8" y1="575.79" x2="80" y2="575.79" stroke="#111" stroke-width="0.95"/>
<line x1="76.8" y1="571.63" x2="80" y2="571.63" stroke="#111" stroke-width="0.95"/>
<line x1="75.3" y1="567.48" x2="80" y2="567.48" stroke="#111" stroke-width="1"/>
<line x1="76.8" y1="563.32" x2="80" y2="563.32" stroke="#111" stroke-width="0.95"/>
<line x1="76.8" y1="559.16" x2="80" y2="559.16" stroke="#111" stroke-width="0.95"/>
<line x1="76.8" y1="555" x2="80" y2="555" stroke="#111" stroke-width="0.95"/>
<line x1="76.8" y1="550.85" x2="80" y2="550.85" stroke="#111" stroke-width="0.95"/>
<line x1="75.3" y1="546.69" x2="80" y2="546.69" stroke="#111" stroke-width="1"/>
<line x1="76.8" y1="542.53" x2="80" y2="542.53" stroke="#111" stroke-width="0.95"/>
<line x1="76.8" y1="538.38" x2="80" y2="538.38" stroke="#111" stroke-width="0.95"/>
<line x1="76.8" y1="534.22" x2="80" y2="534.22" stroke="#111" stroke-width="0.95"/>
<line x1="76.8" y1="530.06" x2="80" y2="530.06" stroke="#111" stroke-width="0.95"/>
<line x1="75.3" y1="525.9" x2="80" y2="525.9" stroke="#111" stroke-width="1"/>
<line x1="76.8" y1="521.75" x2="80" y2="521.75" stroke="#111" stroke-width="0.95"/>
<line x1="76.8" y1="517.59" x2="80" y2="517.59" stroke="#111" stroke-width="0.95"/>
<line x1="76.8" y1="513.43" x2="80" y2="513.43" stroke="#111" stroke-width="0.95"/>
<line x1="76.8" y1="509.28" x2="80" y2="509.28" stroke="#111" stroke-width="0.95"/>
<line x1="75.3" y1="505.12" x2="80" y2="505.12" stroke="#111" stroke-width="1"/>
<line x1="76.8" y1="500.96" x2="80" y2="500.96" stroke="#111" stroke-width="0.95"/>
<line x1="76.8" y1="496.81" x2="80" y2="496.81" stroke="#111" stroke-width="0.95"/>
<line x1="76.8" y1="492.65" x2="80" y2="492.65" stroke="#111" stroke-width="0.95"/>
<line x1="76.8" y1="488.49" x2="80" y2="488.49" stroke="#111" stroke-width="0.95"/>
<line x1="75.3" y1="484.33" x2="80" y2="484.33" stroke="#111" stroke-width="1"/>
<line x1="76.8" y1="480.18" x2="80" y2="480.18" stroke="#111" stroke-width="0.95"/>
<line x1="76.8" y1="476.02" x2="80" y2="476.02" stroke="#111" stroke-width="0.95"/>
<line x1="76.8" y1="471.86" x2="80" y2="471.86" stroke="#111" stroke-width="0.95"/>
<line x1="76.8" y1="467.71" x2="80" y2="467.71" stroke="#111" stroke-width="0.95"/>
<line x1="75.3" y1="463.55" x2="80" y2="463.55" stroke="#111" stroke-width="1"/>
<line x1="76.8" y1="459.39" x2="80" y2="459.39" stroke="#111" stroke-width="0.95"/>
<line x1="76.8" y1="455.24" x2="80" y2="455.24" stroke="#111" stroke-width="0.95"/>
<line x1="76.8" y1="451.08" x2="80" y2="451.08" stroke="#111" stroke-width="0.95"/>
<line x1="76.8" y1="446.92" x2="80" y2="446.92" stroke="#111" stroke-width="0.95"/>
<line x1="75.3" y1="442.76" x2="80" y2="442.76" stroke="#111" stroke-width="1"/>
<line x1="76.8" y1="438.61" x2="80" y2="438.61" stroke="#111" stroke-width="0.95"/>
<line x1="76.8" y1="434.45" x2="80" y2="434.45" stroke="#111" stroke-width="0.95"/>
<line x1="76.8" y1="430.29" x2="80" y2="430.29" stroke="#111" stroke-width="0.95"/>
<line x1="76.8" y1="426.14" x2="80" y2="426.14" stroke="#111" stroke-width="0.95"/>
<line x1="75.3" y1="421.98" x2="80" y2="421.98" stroke="#111" stroke-width="1"/>
<line x1="76.8" y1="417.82" x2="80" y2="417.82" stroke="#111" stroke-width="0.95"/>
<line x1="76.8" y1="413.67" x2="80" y2="413.67" stroke="#111" stroke-width="0.95"/>
<line x1="76.8" y1="409.51" x2="80" y2="409.51" stroke="#111" stroke-width="0.95"/>
<line x1="76.8" y1="405.35" x2="80" y2="405.35" stroke="#111" stroke-width="0.95"/>
<line x1="75.3" y1="401.19" x2="80" y2="401.19" stroke="#111" stroke-width="1"/>
<text transform="translate(64.31 674.95) scale(1.16 1)" font-size="10.6" fill="#2a2a2a">0</text>
<text transform="translate(57.56 654.16) scale(1.16 1)" font-size="10.6" fill="#2a2a2a">50</text>
<text transform="translate(50.69 633.38) scale(1.16 1)" font-size="10.6" fill="#2a2a2a">100</text>
<text transform="translate(50.69 612.59) scale(1.16 1)" font-size="10.6" fill="#2a2a2a">150</text>
<text transform="translate(50.69 591.81) scale(1.16 1)" font-size="10.6" fill="#2a2a2a">200</text>
<text transform="translate(50.69 571.02) scale(1.16 1)" font-size="10.6" fill="#2a2a2a">250</text>
<text transform="translate(50.69 550.24) scale(1.16 1)" font-size="10.6" fill="#2a2a2a">300</text>
<text transform="translate(50.69 529.45) scale(1.16 1)" font-size="10.6" fill="#2a2a2a">350</text>
<text transform="translate(50.69 508.67) scale(1.16 1)" font-size="10.6" fill="#2a2a2a">400</text>
<text transform="translate(50.69 487.88) scale(1.16 1)" font-size="10.6" fill="#2a2a2a">450</text>
<text transform="translate(50.69 467.1) scale(1.16 1)" font-size="10.6" fill="#2a2a2a">500</text>
<text transform="translate(50.69 446.31) scale(1.16 1)" font-size="10.6" fill="#2a2a2a">550</text>
<text transform="translate(50.69 425.53) scale(1.16 1)" font-size="10.6" fill="#2a2a2a">600</text>
<text transform="translate(50.69 404.75) scale(1.16 1)" font-size="10.6" fill="#2a2a2a">650</text>
<line x1="114.6" y1="671.4" x2="114.6" y2="675.4" stroke="#111" stroke-width="1"/>
<line x1="202.2" y1="671.4" x2="202.2" y2="675.4" stroke="#111" stroke-width="1"/>
<line x1="289.2" y1="671.4" x2="289.2" y2="675.4" stroke="#111" stroke-width="1"/>
<line x1="376.5" y1="671.4" x2="376.5" y2="675.4" stroke="#111" stroke-width="1"/>
<line x1="464.3" y1="671.4" x2="464.3" y2="675.4" stroke="#111" stroke-width="1"/>
<text transform="translate(104.64 690.6) scale(1.081 1)" font-size="10.6" fill="#2a2a2a">&gt;2y</text>
<text transform="translate(191.01 690.6) scale(1.074 1)" font-size="10.6" fill="#2a2a2a">1-2y</text>
<text transform="translate(278.75 690.6) scale(1.057 1)" font-size="10.6" fill="#2a2a2a">2-4y</text>
<text transform="translate(364.97 690.6) scale(1.100 1)" font-size="10.6" fill="#2a2a2a">4-6y</text>
<text transform="translate(454.31 690.6) scale(1.129 1)" font-size="10.6" fill="#2a2a2a">&gt;4y</text>
<text transform="translate(211.6 709.5) scale(0.61 1)" font-size="14.1" letter-spacing="0.72" stroke="#2a2a2a" stroke-width="0.3" fill="#2a2a2a">Time since last dose of anti-CD20 MAb</text>
<text transform="translate(42.9 533.7) rotate(-90) scale(0.70 1)" text-anchor="middle" font-size="14" stroke="#2a2a2a" stroke-width="0.15" fill="#2a2a2a">Normal B-cells (/mm<tspan dy="-4.6" font-size="10">3</tspan><tspan dy="4.6">)</tspan></text>
<text transform="translate(147.78 483.5) scale(1.037 1)" font-size="10.6" fill="#2a2a2a"><tspan font-style="italic">P</tspan></text>
<rect x="157.9" y="478.75" width="7.6" height="0.8" fill="#333"/>
<rect x="157.9" y="480.8" width="7.6" height="0.8" fill="#333"/>
<text transform="translate(168.04 483.5) scale(1.137 1)" font-size="10.6" fill="#2a2a2a">.0016</text>
<text transform="translate(226.18 483.5) scale(1.037 1)" font-size="10.6" fill="#2a2a2a"><tspan font-style="italic">P</tspan></text>
<rect x="236.3" y="478.75" width="7.6" height="0.8" fill="#333"/>
<rect x="236.3" y="480.8" width="7.6" height="0.8" fill="#333"/>
<text transform="translate(246.44 483.5) scale(1.133 1)" font-size="10.6" fill="#2a2a2a">.0054</text>
<text transform="translate(323.18 483.5) scale(1.037 1)" font-size="10.6" fill="#2a2a2a"><tspan font-style="italic">P</tspan></text>
<rect x="333.3" y="478.75" width="7.6" height="0.8" fill="#333"/>
<rect x="333.3" y="480.8" width="7.6" height="0.8" fill="#333"/>
<text transform="translate(343.33 483.5) scale(1.246 1)" font-size="10.6" fill="#2a2a2a">.20</text>
<text transform="translate(397.38 483.5) scale(1.037 1)" font-size="10.6" fill="#2a2a2a"><tspan font-style="italic">P</tspan></text>
<rect x="407.5" y="478.75" width="7.6" height="0.8" fill="#333"/>
<rect x="407.5" y="480.8" width="7.6" height="0.8" fill="#333"/>
<text transform="translate(417.69 483.5) scale(1.077 1)" font-size="10.6" fill="#2a2a2a">.38 (2-4y vs &gt;4y)</text>
<path d="M110.34 398.2L112.84 400.7L110.34 403.2L107.84 400.7Z" fill="#e4f6e4" stroke="#2e9444" stroke-width="1.15"/>
<path d="M114.7 421.4L117.2 423.9L114.7 426.4L112.2 423.9Z" fill="#e4f6e4" stroke="#2e9444" stroke-width="1.15"/>
<path d="M119.06 421.1L121.56 423.6L119.06 426.1L116.56 423.6Z" fill="#e4f6e4" stroke="#2e9444" stroke-width="1.15"/>
<path d="M114.7 440.8L117.2 443.3L114.7 445.8L112.2 443.3Z" fill="#e4f6e4" stroke="#2e9444" stroke-width="1.15"/>
<path d="M114.7 449.1L117.2 451.6L114.7 454.1L112.2 451.6Z" fill="#e4f6e4" stroke="#2e9444" stroke-width="1.15"/>
<path d="M114.7 460.4L117.2 462.9L114.7 465.4L112.2 462.9Z" fill="#e4f6e4" stroke="#2e9444" stroke-width="1.15"/>
<path d="M110.34 489.1L112.84 491.6L110.34 494.1L107.84 491.6Z" fill="#e4f6e4" stroke="#2e9444" stroke-width="1.15"/>
<path d="M114.7 489.1L117.2 491.6L114.7 494.1L112.2 491.6Z" fill="#e4f6e4" stroke="#2e9444" stroke-width="1.15"/>
<path d="M119.06 489.1L121.56 491.6L119.06 494.1L116.56 491.6Z" fill="#e4f6e4" stroke="#2e9444" stroke-width="1.15"/>
<path d="M123.42 489.1L125.92 491.6L123.42 494.1L120.92 491.6Z" fill="#e4f6e4" stroke="#2e9444" stroke-width="1.15"/>
<path d="M105.98 499.9L108.48 502.4L105.98 504.9L103.48 502.4Z" fill="#e4f6e4" stroke="#2e9444" stroke-width="1.15"/>
<path d="M123.42 501.1L125.92 503.6L123.42 506.1L120.92 503.6Z" fill="#e4f6e4" stroke="#2e9444" stroke-width="1.15"/>
<path d="M110.34 505.4L112.84 507.9L110.34 510.4L107.84 507.9Z" fill="#e4f6e4" stroke="#2e9444" stroke-width="1.15"/>
<path d="M114.7 508.4L117.2 510.9L114.7 513.4L112.2 510.9Z" fill="#e4f6e4" stroke="#2e9444" stroke-width="1.15"/>
<path d="M119.06 506.7L121.56 509.2L119.06 511.7L116.56 509.2Z" fill="#e4f6e4" stroke="#2e9444" stroke-width="1.15"/>
<path d="M110.34 514.2L112.84 516.7L110.34 519.2L107.84 516.7Z" fill="#e4f6e4" stroke="#2e9444" stroke-width="1.15"/>
<path d="M114.7 517.8L117.2 520.3L114.7 522.8L112.2 520.3Z" fill="#e4f6e4" stroke="#2e9444" stroke-width="1.15"/>
<path d="M119.06 515.1L121.56 517.6L119.06 520.1L116.56 517.6Z" fill="#e4f6e4" stroke="#2e9444" stroke-width="1.15"/>
<path d="M105.98 524.5L108.48 527L105.98 529.5L103.48 527Z" fill="#e4f6e4" stroke="#2e9444" stroke-width="1.15"/>
<path d="M110.34 525.4L112.84 527.9L110.34 530.4L107.84 527.9Z" fill="#e4f6e4" stroke="#2e9444" stroke-width="1.15"/>
<path d="M114.7 526.6L117.2 529.1L114.7 531.6L112.2 529.1Z" fill="#e4f6e4" stroke="#2e9444" stroke-width="1.15"/>
<path d="M119.06 526.1L121.56 528.6L119.06 531.1L116.56 528.6Z" fill="#e4f6e4" stroke="#2e9444" stroke-width="1.15"/>
<path d="M123.42 524.8L125.92 527.3L123.42 529.8L120.92 527.3Z" fill="#e4f6e4" stroke="#2e9444" stroke-width="1.15"/>
<path d="M110.34 532.5L112.84 535L110.34 537.5L107.84 535Z" fill="#e4f6e4" stroke="#2e9444" stroke-width="1.15"/>
<path d="M119.06 532.8L121.56 535.3L119.06 537.8L116.56 535.3Z" fill="#e4f6e4" stroke="#2e9444" stroke-width="1.15"/>
<path d="M114.7 536.5L117.2 539L114.7 541.5L112.2 539Z" fill="#e4f6e4" stroke="#2e9444" stroke-width="1.15"/>
<path d="M97.26 540.4L99.76 542.9L97.26 545.4L94.76 542.9Z" fill="#e4f6e4" stroke="#2e9444" stroke-width="1.15"/>
<path d="M101.62 542.8L104.12 545.3L101.62 547.8L99.12 545.3Z" fill="#e4f6e4" stroke="#2e9444" stroke-width="1.15"/>
<path d="M105.98 544.3L108.48 546.8L105.98 549.3L103.48 546.8Z" fill="#e4f6e4" stroke="#2e9444" stroke-width="1.15"/>
<path d="M110.34 546.2L112.84 548.7L110.34 551.2L107.84 548.7Z" fill="#e4f6e4" stroke="#2e9444" stroke-width="1.15"/>
<path d="M114.7 549.4L117.2 551.9L114.7 554.4L112.2 551.9Z" fill="#e4f6e4" stroke="#2e9444" stroke-width="1.15"/>
<path d="M119.06 548.3L121.56 550.8L119.06 553.3L116.56 550.8Z" fill="#e4f6e4" stroke="#2e9444" stroke-width="1.15"/>
<path d="M123.42 545.4L125.92 547.9L123.42 550.4L120.92 547.9Z" fill="#e4f6e4" stroke="#2e9444" stroke-width="1.15"/>
<path d="M127.78 543.6L130.28 546.1L127.78 548.6L125.28 546.1Z" fill="#e4f6e4" stroke="#2e9444" stroke-width="1.15"/>
<path d="M132.14 541.9L134.64 544.4L132.14 546.9L129.64 544.4Z" fill="#e4f6e4" stroke="#2e9444" stroke-width="1.15"/>
<path d="M136.5 540.9L139 543.4L136.5 545.9L134 543.4Z" fill="#e4f6e4" stroke="#2e9444" stroke-width="1.15"/>
<path d="M110.34 555L112.84 557.5L110.34 560L107.84 557.5Z" fill="#e4f6e4" stroke="#2e9444" stroke-width="1.15"/>
<path d="M114.7 557L117.2 559.5L114.7 562L112.2 559.5Z" fill="#e4f6e4" stroke="#2e9444" stroke-width="1.15"/>
<path d="M119.06 555.8L121.56 558.3L119.06 560.8L116.56 558.3Z" fill="#e4f6e4" stroke="#2e9444" stroke-width="1.15"/>
<path d="M110.34 561L112.84 563.5L110.34 566L107.84 563.5Z" fill="#e4f6e4" stroke="#2e9444" stroke-width="1.15"/>
<path d="M119.06 563.4L121.56 565.9L119.06 568.4L116.56 565.9Z" fill="#e4f6e4" stroke="#2e9444" stroke-width="1.15"/>
<path d="M123.42 560.1L125.92 562.6L123.42 565.1L120.92 562.6Z" fill="#e4f6e4" stroke="#2e9444" stroke-width="1.15"/>
<path d="M114.7 567.7L117.2 570.2L114.7 572.7L112.2 570.2Z" fill="#e4f6e4" stroke="#2e9444" stroke-width="1.15"/>
<path d="M92.9 571.2L95.4 573.7L92.9 576.2L90.4 573.7Z" fill="#e4f6e4" stroke="#2e9444" stroke-width="1.15"/>
<path d="M97.26 572L99.76 574.5L97.26 577L94.76 574.5Z" fill="#e4f6e4" stroke="#2e9444" stroke-width="1.15"/>
<path d="M101.62 573.3L104.12 575.8L101.62 578.3L99.12 575.8Z" fill="#e4f6e4" stroke="#2e9444" stroke-width="1.15"/>
<path d="M105.98 574.9L108.48 577.4L105.98 579.9L103.48 577.4Z" fill="#e4f6e4" stroke="#2e9444" stroke-width="1.15"/>
<path d="M110.34 576.2L112.84 578.7L110.34 581.2L107.84 578.7Z" fill="#e4f6e4" stroke="#2e9444" stroke-width="1.15"/>
<path d="M114.7 577L117.2 579.5L114.7 582L112.2 579.5Z" fill="#e4f6e4" stroke="#2e9444" stroke-width="1.15"/>
<path d="M119.06 576.4L121.56 578.9L119.06 581.4L116.56 578.9Z" fill="#e4f6e4" stroke="#2e9444" stroke-width="1.15"/>
<path d="M123.42 575.2L125.92 577.7L123.42 580.2L120.92 577.7Z" fill="#e4f6e4" stroke="#2e9444" stroke-width="1.15"/>
<path d="M127.78 573.7L130.28 576.2L127.78 578.7L125.28 576.2Z" fill="#e4f6e4" stroke="#2e9444" stroke-width="1.15"/>
<path d="M132.14 572.4L134.64 574.9L132.14 577.4L129.64 574.9Z" fill="#e4f6e4" stroke="#2e9444" stroke-width="1.15"/>
<path d="M136.5 571.2L139 573.7L136.5 576.2L134 573.7Z" fill="#e4f6e4" stroke="#2e9444" stroke-width="1.15"/>
<path d="M97.26 579.5L99.76 582L97.26 584.5L94.76 582Z" fill="#e4f6e4" stroke="#2e9444" stroke-width="1.15"/>
<path d="M101.62 582L104.12 584.5L101.62 587L99.12 584.5Z" fill="#e4f6e4" stroke="#2e9444" stroke-width="1.15"/>
<path d="M105.98 583.7L108.48 586.2L105.98 588.7L103.48 586.2Z" fill="#e4f6e4" stroke="#2e9444" stroke-width="1.15"/>
<path d="M110.34 585.8L112.84 588.3L110.34 590.8L107.84 588.3Z" fill="#e4f6e4" stroke="#2e9444" stroke-width="1.15"/>
<path d="M114.7 589.7L117.2 592.2L114.7 594.7L112.2 592.2Z" fill="#e4f6e4" stroke="#2e9444" stroke-width="1.15"/>
<path d="M119.06 589.5L121.56 592L119.06 594.5L116.56 592Z" fill="#e4f6e4" stroke="#2e9444" stroke-width="1.15"/>
<path d="M123.42 583.9L125.92 586.4L123.42 588.9L120.92 586.4Z" fill="#e4f6e4" stroke="#2e9444" stroke-width="1.15"/>
<path d="M127.78 582.4L130.28 584.9L127.78 587.4L125.28 584.9Z" fill="#e4f6e4" stroke="#2e9444" stroke-width="1.15"/>
<path d="M132.14 580.4L134.64 582.9L132.14 585.4L129.64 582.9Z" fill="#e4f6e4" stroke="#2e9444" stroke-width="1.15"/>
<path d="M136.5 577.9L139 580.4L136.5 582.9L134 580.4Z" fill="#e4f6e4" stroke="#2e9444" stroke-width="1.15"/>
<path d="M97.26 593L99.76 595.5L97.26 598L94.76 595.5Z" fill="#e4f6e4" stroke="#2e9444" stroke-width="1.15"/>
<path d="M101.62 593.9L104.12 596.4L101.62 598.9L99.12 596.4Z" fill="#e4f6e4" stroke="#2e9444" stroke-width="1.15"/>
<path d="M105.98 594.9L108.48 597.4L105.98 599.9L103.48 597.4Z" fill="#e4f6e4" stroke="#2e9444" stroke-width="1.15"/>
<path d="M123.42 596.3L125.92 598.8L123.42 601.3L120.92 598.8Z" fill="#e4f6e4" stroke="#2e9444" stroke-width="1.15"/>
<path d="M127.78 594.4L130.28 596.9L127.78 599.4L125.28 596.9Z" fill="#e4f6e4" stroke="#2e9444" stroke-width="1.15"/>
<path d="M132.14 593.3L134.64 595.8L132.14 598.3L129.64 595.8Z" fill="#e4f6e4" stroke="#2e9444" stroke-width="1.15"/>
<path d="M136.5 592.7L139 595.2L136.5 597.7L134 595.2Z" fill="#e4f6e4" stroke="#2e9444" stroke-width="1.15"/>
<path d="M110.34 598.8L112.84 601.3L110.34 603.8L107.84 601.3Z" fill="#e4f6e4" stroke="#2e9444" stroke-width="1.15"/>
<path d="M114.7 600.1L117.2 602.6L114.7 605.1L112.2 602.6Z" fill="#e4f6e4" stroke="#2e9444" stroke-width="1.15"/>
<path d="M119.06 598.8L121.56 601.3L119.06 603.8L116.56 601.3Z" fill="#e4f6e4" stroke="#2e9444" stroke-width="1.15"/>
<path d="M101.62 601.7L104.12 604.2L101.62 606.7L99.12 604.2Z" fill="#e4f6e4" stroke="#2e9444" stroke-width="1.15"/>
<path d="M105.98 602.9L108.48 605.4L105.98 607.9L103.48 605.4Z" fill="#e4f6e4" stroke="#2e9444" stroke-width="1.15"/>
<path d="M110.34 604.1L112.84 606.6L110.34 609.1L107.84 606.6Z" fill="#e4f6e4" stroke="#2e9444" stroke-width="1.15"/>
<path d="M119.06 604L121.56 606.5L119.06 609L116.56 606.5Z" fill="#e4f6e4" stroke="#2e9444" stroke-width="1.15"/>
<path d="M123.42 603.1L125.92 605.6L123.42 608.1L120.92 605.6Z" fill="#e4f6e4" stroke="#2e9444" stroke-width="1.15"/>
<path d="M127.78 602.2L130.28 604.7L127.78 607.2L125.28 604.7Z" fill="#e4f6e4" stroke="#2e9444" stroke-width="1.15"/>
<path d="M132.14 600.5L134.64 603L132.14 605.5L129.64 603Z" fill="#e4f6e4" stroke="#2e9444" stroke-width="1.15"/>
<path d="M114.7 607.9L117.2 610.4L114.7 612.9L112.2 610.4Z" fill="#e4f6e4" stroke="#2e9444" stroke-width="1.15"/>
<path d="M79.82 609.6L82.32 612.1L79.82 614.6L77.32 612.1Z" fill="#e4f6e4" stroke="#2e9444" stroke-width="1.15"/>
<path d="M84.18 610.7L86.68 613.2L84.18 615.7L81.68 613.2Z" fill="#e4f6e4" stroke="#2e9444" stroke-width="1.15"/>
<path d="M88.54 611.4L91.04 613.9L88.54 616.4L86.04 613.9Z" fill="#e4f6e4" stroke="#2e9444" stroke-width="1.15"/>
<path d="M92.9 612.3L95.4 614.8L92.9 617.3L90.4 614.8Z" fill="#e4f6e4" stroke="#2e9444" stroke-width="1.15"/>
<path d="M97.26 612.9L99.76 615.4L97.26 617.9L94.76 615.4Z" fill="#e4f6e4" stroke="#2e9444" stroke-width="1.15"/>
<path d="M101.62 613.4L104.12 615.9L101.62 618.4L99.12 615.9Z" fill="#e4f6e4" stroke="#2e9444" stroke-width="1.15"/>
<path d="M105.98 614.1L108.48 616.6L105.98 619.1L103.48 616.6Z" fill="#e4f6e4" stroke="#2e9444" stroke-width="1.15"/>
<path d="M110.34 615L112.84 617.5L110.34 620L107.84 617.5Z" fill="#e4f6e4" stroke="#2e9444" stroke-width="1.15"/>
<path d="M114.7 615.9L117.2 618.4L114.7 620.9L112.2 618.4Z" fill="#e4f6e4" stroke="#2e9444" stroke-width="1.15"/>
<path d="M119.06 615.3L121.56 617.8L119.06 620.3L116.56 617.8Z" fill="#e4f6e4" stroke="#2e9444" stroke-width="1.15"/>
<path d="M123.42 614.7L125.92 617.2L123.42 619.7L120.92 617.2Z" fill="#e4f6e4" stroke="#2e9444" stroke-width="1.15"/>
<path d="M127.78 614.3L130.28 616.8L127.78 619.3L125.28 616.8Z" fill="#e4f6e4" stroke="#2e9444" stroke-width="1.15"/>
<path d="M132.14 613.5L134.64 616L132.14 618.5L129.64 616Z" fill="#e4f6e4" stroke="#2e9444" stroke-width="1.15"/>
<path d="M136.5 613.1L139 615.6L136.5 618.1L134 615.6Z" fill="#e4f6e4" stroke="#2e9444" stroke-width="1.15"/>
<path d="M140.86 612.4L143.36 614.9L140.86 617.4L138.36 614.9Z" fill="#e4f6e4" stroke="#2e9444" stroke-width="1.15"/>
<path d="M145.22 610.8L147.72 613.3L145.22 615.8L142.72 613.3Z" fill="#e4f6e4" stroke="#2e9444" stroke-width="1.15"/>
<path d="M88.54 616.9L91.04 619.4L88.54 621.9L86.04 619.4Z" fill="#e4f6e4" stroke="#2e9444" stroke-width="1.15"/>
<path d="M92.9 618.4L95.4 620.9L92.9 623.4L90.4 620.9Z" fill="#e4f6e4" stroke="#2e9444" stroke-width="1.15"/>
<path d="M97.26 619.5L99.76 622L97.26 624.5L94.76 622Z" fill="#e4f6e4" stroke="#2e9444" stroke-width="1.15"/>
<path d="M101.62 621L104.12 623.5L101.62 626L99.12 623.5Z" fill="#e4f6e4" stroke="#2e9444" stroke-width="1.15"/>
<path d="M105.98 622.4L108.48 624.9L105.98 627.4L103.48 624.9Z" fill="#e4f6e4" stroke="#2e9444" stroke-width="1.15"/>
<path d="M110.34 623.6L112.84 626.1L110.34 628.6L107.84 626.1Z" fill="#e4f6e4" stroke="#2e9444" stroke-width="1.15"/>
<path d="M114.7 626.9L117.2 629.4L114.7 631.9L112.2 629.4Z" fill="#e4f6e4" stroke="#2e9444" stroke-width="1.15"/>
<path d="M119.06 626.3L121.56 628.8L119.06 631.3L116.56 628.8Z" fill="#e4f6e4" stroke="#2e9444" stroke-width="1.15"/>
<path d="M123.42 623.4L125.92 625.9L123.42 628.4L120.92 625.9Z" fill="#e4f6e4" stroke="#2e9444" stroke-width="1.15"/>
<path d="M127.78 621.9L130.28 624.4L127.78 626.9L125.28 624.4Z" fill="#e4f6e4" stroke="#2e9444" stroke-width="1.15"/>
<path d="M132.14 620.4L134.64 622.9L132.14 625.4L129.64 622.9Z" fill="#e4f6e4" stroke="#2e9444" stroke-width="1.15"/>
<path d="M136.5 619.3L139 621.8L136.5 624.3L134 621.8Z" fill="#e4f6e4" stroke="#2e9444" stroke-width="1.15"/>
<path d="M140.86 617.7L143.36 620.2L140.86 622.7L138.36 620.2Z" fill="#e4f6e4" stroke="#2e9444" stroke-width="1.15"/>
<path d="M105.98 628.2L108.48 630.7L105.98 633.2L103.48 630.7Z" fill="#e4f6e4" stroke="#2e9444" stroke-width="1.15"/>
<path d="M110.34 630.3L112.84 632.8L110.34 635.3L107.84 632.8Z" fill="#e4f6e4" stroke="#2e9444" stroke-width="1.15"/>
<path d="M114.7 632.3L117.2 634.8L114.7 637.3L112.2 634.8Z" fill="#e4f6e4" stroke="#2e9444" stroke-width="1.15"/>
<path d="M119.06 631.5L121.56 634L119.06 636.5L116.56 634Z" fill="#e4f6e4" stroke="#2e9444" stroke-width="1.15"/>
<path d="M123.42 631L125.92 633.5L123.42 636L120.92 633.5Z" fill="#e4f6e4" stroke="#2e9444" stroke-width="1.15"/>
<path d="M88.54 634.2L91.04 636.7L88.54 639.2L86.04 636.7Z" fill="#e4f6e4" stroke="#2e9444" stroke-width="1.15"/>
<path d="M92.9 635.2L95.4 637.7L92.9 640.2L90.4 637.7Z" fill="#e4f6e4" stroke="#2e9444" stroke-width="1.15"/>
<path d="M97.26 636.3L99.76 638.8L97.26 641.3L94.76 638.8Z" fill="#e4f6e4" stroke="#2e9444" stroke-width="1.15"/>
<path d="M101.62 637.4L104.12 639.9L101.62 642.4L99.12 639.9Z" fill="#e4f6e4" stroke="#2e9444" stroke-width="1.15"/>
<path d="M105.98 638.7L108.48 641.2L105.98 643.7L103.48 641.2Z" fill="#e4f6e4" stroke="#2e9444" stroke-width="1.15"/>
<path d="M110.34 639.9L112.84 642.4L110.34 644.9L107.84 642.4Z" fill="#e4f6e4" stroke="#2e9444" stroke-width="1.15"/>
<path d="M114.7 640.6L117.2 643.1L114.7 645.6L112.2 643.1Z" fill="#e4f6e4" stroke="#2e9444" stroke-width="1.15"/>
<path d="M119.06 640L121.56 642.5L119.06 645L116.56 642.5Z" fill="#e4f6e4" stroke="#2e9444" stroke-width="1.15"/>
<path d="M123.42 638.9L125.92 641.4L123.42 643.9L120.92 641.4Z" fill="#e4f6e4" stroke="#2e9444" stroke-width="1.15"/>
<path d="M127.78 637.7L130.28 640.2L127.78 642.7L125.28 640.2Z" fill="#e4f6e4" stroke="#2e9444" stroke-width="1.15"/>
<path d="M132.14 636.6L134.64 639.1L132.14 641.6L129.64 639.1Z" fill="#e4f6e4" stroke="#2e9444" stroke-width="1.15"/>
<path d="M136.5 635.5L139 638L136.5 640.5L134 638Z" fill="#e4f6e4" stroke="#2e9444" stroke-width="1.15"/>
<path d="M140.86 634.4L143.36 636.9L140.86 639.4L138.36 636.9Z" fill="#e4f6e4" stroke="#2e9444" stroke-width="1.15"/>
<path d="M88.54 641.5L91.04 644L88.54 646.5L86.04 644Z" fill="#e4f6e4" stroke="#2e9444" stroke-width="1.15"/>
<path d="M92.9 643.3L95.4 645.8L92.9 648.3L90.4 645.8Z" fill="#e4f6e4" stroke="#2e9444" stroke-width="1.15"/>
<path d="M97.26 645.2L99.76 647.7L97.26 650.2L94.76 647.7Z" fill="#e4f6e4" stroke="#2e9444" stroke-width="1.15"/>
<path d="M101.62 646.6L104.12 649.1L101.62 651.6L99.12 649.1Z" fill="#e4f6e4" stroke="#2e9444" stroke-width="1.15"/>
<path d="M105.98 648.4L108.48 650.9L105.98 653.4L103.48 650.9Z" fill="#e4f6e4" stroke="#2e9444" stroke-width="1.15"/>
<path d="M110.34 649.9L112.84 652.4L110.34 654.9L107.84 652.4Z" fill="#e4f6e4" stroke="#2e9444" stroke-width="1.15"/>
<path d="M114.7 652.4L117.2 654.9L114.7 657.4L112.2 654.9Z" fill="#e4f6e4" stroke="#2e9444" stroke-width="1.15"/>
<path d="M119.06 650.8L121.56 653.3L119.06 655.8L116.56 653.3Z" fill="#e4f6e4" stroke="#2e9444" stroke-width="1.15"/>
<path d="M123.42 649.2L125.92 651.7L123.42 654.2L120.92 651.7Z" fill="#e4f6e4" stroke="#2e9444" stroke-width="1.15"/>
<path d="M127.78 648L130.28 650.5L127.78 653L125.28 650.5Z" fill="#e4f6e4" stroke="#2e9444" stroke-width="1.15"/>
<path d="M132.14 646.4L134.64 648.9L132.14 651.4L129.64 648.9Z" fill="#e4f6e4" stroke="#2e9444" stroke-width="1.15"/>
<path d="M136.5 645.1L139 647.6L136.5 650.1L134 647.6Z" fill="#e4f6e4" stroke="#2e9444" stroke-width="1.15"/>
<path d="M140.86 643.1L143.36 645.6L140.86 648.1L138.36 645.6Z" fill="#e4f6e4" stroke="#2e9444" stroke-width="1.15"/>
<path d="M84.18 653.2L86.68 655.7L84.18 658.2L81.68 655.7Z" fill="#e4f6e4" stroke="#2e9444" stroke-width="1.15"/>
<path d="M88.54 654.9L91.04 657.4L88.54 659.9L86.04 657.4Z" fill="#e4f6e4" stroke="#2e9444" stroke-width="1.15"/>
<path d="M92.9 656.2L95.4 658.7L92.9 661.2L90.4 658.7Z" fill="#e4f6e4" stroke="#2e9444" stroke-width="1.15"/>
<path d="M97.26 657.8L99.76 660.3L97.26 662.8L94.76 660.3Z" fill="#e4f6e4" stroke="#2e9444" stroke-width="1.15"/>
<path d="M101.62 659L104.12 661.5L101.62 664L99.12 661.5Z" fill="#e4f6e4" stroke="#2e9444" stroke-width="1.15"/>
<path d="M105.98 659.5L108.48 662L105.98 664.5L103.48 662Z" fill="#e4f6e4" stroke="#2e9444" stroke-width="1.15"/>
<path d="M110.34 659.8L112.84 662.3L110.34 664.8L107.84 662.3Z" fill="#e4f6e4" stroke="#2e9444" stroke-width="1.15"/>
<path d="M114.7 659.8L117.2 662.3L114.7 664.8L112.2 662.3Z" fill="#e4f6e4" stroke="#2e9444" stroke-width="1.15"/>
<path d="M119.06 659.5L121.56 662L119.06 664.5L116.56 662Z" fill="#e4f6e4" stroke="#2e9444" stroke-width="1.15"/>
<path d="M123.42 659L125.92 661.5L123.42 664L120.92 661.5Z" fill="#e4f6e4" stroke="#2e9444" stroke-width="1.15"/>
<path d="M127.78 658.1L130.28 660.6L127.78 663.1L125.28 660.6Z" fill="#e4f6e4" stroke="#2e9444" stroke-width="1.15"/>
<path d="M132.14 657.8L134.64 660.3L132.14 662.8L129.64 660.3Z" fill="#e4f6e4" stroke="#2e9444" stroke-width="1.15"/>
<path d="M136.5 656.9L139 659.4L136.5 661.9L134 659.4Z" fill="#e4f6e4" stroke="#2e9444" stroke-width="1.15"/>
<path d="M140.86 655.7L143.36 658.2L140.86 660.7L138.36 658.2Z" fill="#e4f6e4" stroke="#2e9444" stroke-width="1.15"/>
<path d="M145.22 654.1L147.72 656.6L145.22 659.1L142.72 656.6Z" fill="#e4f6e4" stroke="#2e9444" stroke-width="1.15"/>
<path d="M88.54 661.1L91.04 663.6L88.54 666.1L86.04 663.6Z" fill="#e4f6e4" stroke="#2e9444" stroke-width="1.15"/>
<path d="M92.9 662.3L95.4 664.8L92.9 667.3L90.4 664.8Z" fill="#e4f6e4" stroke="#2e9444" stroke-width="1.15"/>
<path d="M97.26 663.5L99.76 666L97.26 668.5L94.76 666Z" fill="#e4f6e4" stroke="#2e9444" stroke-width="1.15"/>
<path d="M114.7 664.3L117.2 666.8L114.7 669.3L112.2 666.8Z" fill="#e4f6e4" stroke="#2e9444" stroke-width="1.15"/>
<path d="M132.14 664.3L134.64 666.8L132.14 669.3L129.64 666.8Z" fill="#e4f6e4" stroke="#2e9444" stroke-width="1.15"/>
<path d="M136.5 662.9L139 665.4L136.5 667.9L134 665.4Z" fill="#e4f6e4" stroke="#2e9444" stroke-width="1.15"/>
<path d="M140.86 661.4L143.36 663.9L140.86 666.4L138.36 663.9Z" fill="#e4f6e4" stroke="#2e9444" stroke-width="1.15"/>
<path d="M101.62 668.2L104.12 670.7L101.62 673.2L99.12 670.7Z" fill="#e4f6e4" stroke="#2e9444" stroke-width="1.15"/>
<path d="M105.98 668.2L108.48 670.7L105.98 673.2L103.48 670.7Z" fill="#e4f6e4" stroke="#2e9444" stroke-width="1.15"/>
<path d="M110.34 668.2L112.84 670.7L110.34 673.2L107.84 670.7Z" fill="#e4f6e4" stroke="#2e9444" stroke-width="1.15"/>
<path d="M114.7 668.2L117.2 670.7L114.7 673.2L112.2 670.7Z" fill="#e4f6e4" stroke="#2e9444" stroke-width="1.15"/>
<path d="M119.06 668.2L121.56 670.7L119.06 673.2L116.56 670.7Z" fill="#e4f6e4" stroke="#2e9444" stroke-width="1.15"/>
<path d="M123.42 668.2L125.92 670.7L123.42 673.2L120.92 670.7Z" fill="#e4f6e4" stroke="#2e9444" stroke-width="1.15"/>
<path d="M127.78 668.2L130.28 670.7L127.78 673.2L125.28 670.7Z" fill="#e4f6e4" stroke="#2e9444" stroke-width="1.15"/>
<path d="M149.58 610.1L152.08 612.6L149.58 615.1L147.08 612.6Z" fill="#e4f6e4" stroke="#2e9444" stroke-width="1.15"/>
<path d="M197.7 551.6L200 553.9L197.7 556.2L195.4 553.9Z" fill="#288a3a"/>
<path d="M202.1 551.6L204.4 553.9L202.1 556.2L199.8 553.9Z" fill="#288a3a"/>
<path d="M206.6 551.6L208.9 553.9L206.6 556.2L204.3 553.9Z" fill="#288a3a"/>
<path d="M202.1 560L204.4 562.3L202.1 564.6L199.8 562.3Z" fill="#288a3a"/>
<path d="M206.6 568.3L208.9 570.6L206.6 572.9L204.3 570.6Z" fill="#288a3a"/>
<path d="M202.1 574.1L204.4 576.4L202.1 578.7L199.8 576.4Z" fill="#288a3a"/>
<path d="M202.1 581.9L204.4 584.2L202.1 586.5L199.8 584.2Z" fill="#288a3a"/>
<path d="M202.1 594.2L204.4 596.5L202.1 598.8L199.8 596.5Z" fill="#288a3a"/>
<path d="M211.2 599.7L213.5 602L211.2 604.3L208.9 602Z" fill="#288a3a"/>
<path d="M197.7 605.1L200 607.4L197.7 609.7L195.4 607.4Z" fill="#288a3a"/>
<path d="M202.1 605.5L204.4 607.8L202.1 610.1L199.8 607.8Z" fill="#288a3a"/>
<path d="M206.6 605.5L208.9 607.8L206.6 610.1L204.3 607.8Z" fill="#288a3a"/>
<path d="M206.6 612.8L208.9 615.1L206.6 617.4L204.3 615.1Z" fill="#288a3a"/>
<path d="M197.7 620.6L200 622.9L197.7 625.2L195.4 622.9Z" fill="#288a3a"/>
<path d="M202.1 617.7L204.4 620L202.1 622.3L199.8 620Z" fill="#288a3a"/>
<path d="M206.6 621.4L208.9 623.7L206.6 626L204.3 623.7Z" fill="#288a3a"/>
<path d="M202.3 630.4L204.6 632.7L202.3 635L200 632.7Z" fill="#288a3a"/>
<path d="M193.7 635.2L196 637.5L193.7 639.8L191.4 637.5Z" fill="#288a3a"/>
<path d="M210.6 635.6L212.9 637.9L210.6 640.2L208.3 637.9Z" fill="#288a3a"/>
<path d="M215.1 634.4L217.4 636.7L215.1 639L212.8 636.7Z" fill="#288a3a"/>
<path d="M197.8 640.2L200.1 642.5L197.8 644.8L195.5 642.5Z" fill="#288a3a"/>
<path d="M202.3 644L204.6 646.3L202.3 648.6L200 646.3Z" fill="#288a3a"/>
<path d="M206.7 642.3L209 644.6L206.7 646.9L204.4 644.6Z" fill="#288a3a"/>
<path d="M188.8 651.7L191.1 654L188.8 656.3L186.5 654Z" fill="#288a3a"/>
<path d="M193.7 655.9L196 658.2L193.7 660.5L191.4 658.2Z" fill="#288a3a"/>
<path d="M197.8 659L200.1 661.3L197.8 663.6L195.5 661.3Z" fill="#288a3a"/>
<path d="M202.3 660.9L204.6 663.2L202.3 665.5L200 663.2Z" fill="#288a3a"/>
<path d="M206.7 660.9L209 663.2L206.7 665.5L204.4 663.2Z" fill="#288a3a"/>
<path d="M211.3 658.5L213.6 660.8L211.3 663.1L209 660.8Z" fill="#288a3a"/>
<path d="M215.6 655.8L217.9 658.1L215.6 660.4L213.3 658.1Z" fill="#288a3a"/>
<path d="M188.8 666.7L191.1 669L188.8 671.3L186.5 669Z" fill="#288a3a"/>
<path d="M193.7 667.3L196 669.6L193.7 671.9L191.4 669.6Z" fill="#288a3a"/>
<path d="M197.8 669L200.1 671.3L197.8 673.6L195.5 671.3Z" fill="#288a3a"/>
<path d="M202.3 669.1L204.6 671.4L202.3 673.7L200 671.4Z" fill="#288a3a"/>
<path d="M206.7 669.2L209 671.5L206.7 673.8L204.4 671.5Z" fill="#288a3a"/>
<path d="M211.3 669L213.6 671.3L211.3 673.6L209 671.3Z" fill="#288a3a"/>
<path d="M215.6 667.3L217.9 669.6L215.6 671.9L213.3 669.6Z" fill="#288a3a"/>
<path d="M219.9 669L222.2 671.3L219.9 673.6L217.6 671.3Z" fill="#288a3a"/>
<rect x="286.8" y="397.7" width="4.8" height="4.8" fill="none" stroke="#4a2a64" stroke-width="1.15"/>
<rect x="286.8" y="487.9" width="4.8" height="4.8" fill="none" stroke="#4a2a64" stroke-width="1.15"/>
<rect x="286.8" y="501.5" width="4.8" height="4.8" fill="none" stroke="#4a2a64" stroke-width="1.15"/>
<rect x="291.6" y="499.9" width="4.8" height="4.8" fill="none" stroke="#4a2a64" stroke-width="1.15"/>
<rect x="286.8" y="517.3" width="4.8" height="4.8" fill="none" stroke="#4a2a64" stroke-width="1.15"/>
<rect x="282.6" y="536.5" width="4.8" height="4.8" fill="none" stroke="#4a2a64" stroke-width="1.15"/>
<rect x="286.5" y="541.6" width="4.8" height="4.8" fill="none" stroke="#4a2a64" stroke-width="1.15"/>
<rect x="290.8" y="541.2" width="4.8" height="4.8" fill="none" stroke="#4a2a64" stroke-width="1.15"/>
<rect x="286.5" y="549.4" width="4.8" height="4.8" fill="none" stroke="#4a2a64" stroke-width="1.15"/>
<rect x="282.3" y="572.3" width="4.8" height="4.8" fill="none" stroke="#4a2a64" stroke-width="1.15"/>
<rect x="290.8" y="573.1" width="4.8" height="4.8" fill="none" stroke="#4a2a64" stroke-width="1.15"/>
<rect x="286.5" y="579.9" width="4.8" height="4.8" fill="none" stroke="#4a2a64" stroke-width="1.15"/>
<rect x="286.5" y="585.2" width="4.8" height="4.8" fill="none" stroke="#4a2a64" stroke-width="1.15"/>
<rect x="290.8" y="589.1" width="4.8" height="4.8" fill="none" stroke="#4a2a64" stroke-width="1.15"/>
<rect x="282.6" y="592.9" width="4.8" height="4.8" fill="none" stroke="#4a2a64" stroke-width="1.15"/>
<rect x="287" y="602.5" width="4.8" height="4.8" fill="none" stroke="#4a2a64" stroke-width="1.15"/>
<rect x="282.7" y="609.7" width="4.8" height="4.8" fill="none" stroke="#4a2a64" stroke-width="1.15"/>
<rect x="287" y="611.4" width="4.8" height="4.8" fill="none" stroke="#4a2a64" stroke-width="1.15"/>
<rect x="291.9" y="611.4" width="4.8" height="4.8" fill="none" stroke="#4a2a64" stroke-width="1.15"/>
<rect x="287" y="621.9" width="4.8" height="4.8" fill="none" stroke="#4a2a64" stroke-width="1.15"/>
<rect x="282.5" y="634.8" width="4.8" height="4.8" fill="none" stroke="#4a2a64" stroke-width="1.15"/>
<rect x="286.8" y="638.6" width="4.8" height="4.8" fill="none" stroke="#4a2a64" stroke-width="1.15"/>
<rect x="291.5" y="638.1" width="4.8" height="4.8" fill="none" stroke="#4a2a64" stroke-width="1.15"/>
<rect x="282.2" y="647.2" width="4.8" height="4.8" fill="none" stroke="#4a2a64" stroke-width="1.15"/>
<rect x="282.2" y="652.6" width="4.8" height="4.8" fill="none" stroke="#4a2a64" stroke-width="1.15"/>
<rect x="291.1" y="649.4" width="4.8" height="4.8" fill="none" stroke="#4a2a64" stroke-width="1.15"/>
<rect x="291.1" y="654.8" width="4.8" height="4.8" fill="none" stroke="#4a2a64" stroke-width="1.15"/>
<rect x="286.8" y="658.9" width="4.8" height="4.8" fill="none" stroke="#4a2a64" stroke-width="1.15"/>
<rect x="286.8" y="668.8" width="4.8" height="4.8" fill="none" stroke="#4a2a64" stroke-width="1.15"/>
<rect x="291.9" y="667.5" width="4.8" height="4.8" fill="none" stroke="#4a2a64" stroke-width="1.15"/>
<rect x="374.1" y="505.5" width="4.8" height="4.8" fill="#4a2260"/>
<rect x="373.8" y="542.7" width="4.8" height="4.8" fill="#4a2260"/>
<rect x="379.1" y="541.2" width="4.8" height="4.8" fill="#4a2260"/>
<rect x="378.8" y="547.7" width="4.8" height="4.8" fill="#4a2260"/>
<rect x="383.3" y="555.6" width="4.8" height="4.8" fill="#4a2260"/>
<rect x="378.8" y="575.9" width="4.8" height="4.8" fill="#4a2260"/>
<rect x="374.1" y="581.8" width="4.8" height="4.8" fill="#4a2260"/>
<rect x="369.6" y="594.5" width="4.8" height="4.8" fill="#4a2260"/>
<rect x="374.4" y="594.5" width="4.8" height="4.8" fill="#4a2260"/>
<rect x="379.4" y="595.2" width="4.8" height="4.8" fill="#4a2260"/>
<rect x="374.4" y="600" width="4.8" height="4.8" fill="#4a2260"/>
<rect x="369.6" y="609.4" width="4.8" height="4.8" fill="#4a2260"/>
<rect x="374.4" y="613.9" width="4.8" height="4.8" fill="#4a2260"/>
<rect x="379" y="611.7" width="4.8" height="4.8" fill="#4a2260"/>
<rect x="369.3" y="619.3" width="4.8" height="4.8" fill="#4a2260"/>
<rect x="374.4" y="623.7" width="4.8" height="4.8" fill="#4a2260"/>
<rect x="379" y="620.7" width="4.8" height="4.8" fill="#4a2260"/>
<rect x="374.4" y="629.8" width="4.8" height="4.8" fill="#4a2260"/>
<rect x="379" y="628.4" width="4.8" height="4.8" fill="#4a2260"/>
<rect x="369.6" y="640.2" width="4.8" height="4.8" fill="#4a2260"/>
<rect x="378.5" y="639.9" width="4.8" height="4.8" fill="#4a2260"/>
<rect x="383.5" y="637.9" width="4.8" height="4.8" fill="#4a2260"/>
<rect x="374.4" y="645.4" width="4.8" height="4.8" fill="#4a2260"/>
<rect x="369.6" y="649.4" width="4.8" height="4.8" fill="#4a2260"/>
<rect x="383.1" y="648.7" width="4.8" height="4.8" fill="#4a2260"/>
<rect x="374.4" y="654.8" width="4.8" height="4.8" fill="#4a2260"/>
<rect x="374.4" y="659.6" width="4.8" height="4.8" fill="#4a2260"/>
<rect x="379" y="667.3" width="4.8" height="4.8" fill="#4a2260"/>
<path d="M461.65 420.95L466.75 420.95L464.2 426.05Z" fill="#fff0c0" stroke="#ee9020" stroke-width="1.15"/>
<path d="M466.05 420.45L471.15 420.45L468.6 425.55Z" fill="#fff0c0" stroke="#ee9020" stroke-width="1.15"/>
<path d="M466.05 440.45L471.15 440.45L468.6 445.55Z" fill="#fff0c0" stroke="#ee9020" stroke-width="1.15"/>
<path d="M461.65 448.15L466.75 448.15L464.2 453.25Z" fill="#fff0c0" stroke="#ee9020" stroke-width="1.15"/>
<path d="M461.65 459.35L466.75 459.35L464.2 464.45Z" fill="#fff0c0" stroke="#ee9020" stroke-width="1.15"/>
<path d="M457.25 488.15L462.35 488.15L459.8 493.25Z" fill="#fff0c0" stroke="#ee9020" stroke-width="1.15"/>
<path d="M461.65 488.15L466.75 488.15L464.2 493.25Z" fill="#fff0c0" stroke="#ee9020" stroke-width="1.15"/>
<path d="M466.05 488.15L471.15 488.15L468.6 493.25Z" fill="#fff0c0" stroke="#ee9020" stroke-width="1.15"/>
<path d="M457.25 507.05L462.35 507.05L459.8 512.15Z" fill="#fff0c0" stroke="#ee9020" stroke-width="1.15"/>
<path d="M461.65 506.05L466.75 506.05L464.2 511.15Z" fill="#fff0c0" stroke="#ee9020" stroke-width="1.15"/>
<path d="M466.05 504.45L471.15 504.45L468.6 509.55Z" fill="#fff0c0" stroke="#ee9020" stroke-width="1.15"/>
<path d="M461.65 515.25L466.75 515.25L464.2 520.35Z" fill="#fff0c0" stroke="#ee9020" stroke-width="1.15"/>
<path d="M466.05 514.05L471.15 514.05L468.6 519.15Z" fill="#fff0c0" stroke="#ee9020" stroke-width="1.15"/>
<path d="M452.85 526.35L457.95 526.35L455.4 531.45Z" fill="#fff0c0" stroke="#ee9020" stroke-width="1.15"/>
<path d="M457.25 527.05L462.35 527.05L459.8 532.15Z" fill="#fff0c0" stroke="#ee9020" stroke-width="1.15"/>
<path d="M461.65 525.05L466.75 525.05L464.2 530.15Z" fill="#fff0c0" stroke="#ee9020" stroke-width="1.15"/>
<path d="M470.45 525.55L475.55 525.55L473 530.65Z" fill="#fff0c0" stroke="#ee9020" stroke-width="1.15"/>
<path d="M474.85 524.45L479.95 524.45L477.4 529.55Z" fill="#fff0c0" stroke="#ee9020" stroke-width="1.15"/>
<path d="M461.65 532.25L466.75 532.25L464.2 537.35Z" fill="#fff0c0" stroke="#ee9020" stroke-width="1.15"/>
<path d="M466.05 531.25L471.15 531.25L468.6 536.35Z" fill="#fff0c0" stroke="#ee9020" stroke-width="1.15"/>
<path d="M448.45 541.05L453.55 541.05L451 546.15Z" fill="#fff0c0" stroke="#ee9020" stroke-width="1.15"/>
<path d="M452.85 542.85L457.95 542.85L455.4 547.95Z" fill="#fff0c0" stroke="#ee9020" stroke-width="1.15"/>
<path d="M457.25 544.65L462.35 544.65L459.8 549.75Z" fill="#fff0c0" stroke="#ee9020" stroke-width="1.15"/>
<path d="M461.65 546.65L466.75 546.65L464.2 551.75Z" fill="#fff0c0" stroke="#ee9020" stroke-width="1.15"/>
<path d="M466.05 545.15L471.15 545.15L468.6 550.25Z" fill="#fff0c0" stroke="#ee9020" stroke-width="1.15"/>
<path d="M470.45 543.65L475.55 543.65L473 548.75Z" fill="#fff0c0" stroke="#ee9020" stroke-width="1.15"/>
<path d="M474.85 541.65L479.95 541.65L477.4 546.75Z" fill="#fff0c0" stroke="#ee9020" stroke-width="1.15"/>
<path d="M452.85 555.15L457.95 555.15L455.4 560.25Z" fill="#fff0c0" stroke="#ee9020" stroke-width="1.15"/>
<path d="M457.25 558.35L462.35 558.35L459.8 563.45Z" fill="#fff0c0" stroke="#ee9020" stroke-width="1.15"/>
<path d="M461.65 560.75L466.75 560.75L464.2 565.85Z" fill="#fff0c0" stroke="#ee9020" stroke-width="1.15"/>
<path d="M466.05 559.55L471.15 559.55L468.6 564.65Z" fill="#fff0c0" stroke="#ee9020" stroke-width="1.15"/>
<path d="M470.45 556.85L475.55 556.85L473 561.95Z" fill="#fff0c0" stroke="#ee9020" stroke-width="1.15"/>
<path d="M474.85 555.15L479.95 555.15L477.4 560.25Z" fill="#fff0c0" stroke="#ee9020" stroke-width="1.15"/>
<path d="M448.45 567.05L453.55 567.05L451 572.15Z" fill="#fff0c0" stroke="#ee9020" stroke-width="1.15"/>
<path d="M452.85 570.55L457.95 570.55L455.4 575.65Z" fill="#fff0c0" stroke="#ee9020" stroke-width="1.15"/>
<path d="M470.45 571.15L475.55 571.15L473 576.25Z" fill="#fff0c0" stroke="#ee9020" stroke-width="1.15"/>
<path d="M474.85 569.95L479.95 569.95L477.4 575.05Z" fill="#fff0c0" stroke="#ee9020" stroke-width="1.15"/>
<path d="M444.05 575.15L449.15 575.15L446.6 580.25Z" fill="#fff0c0" stroke="#ee9020" stroke-width="1.15"/>
<path d="M448.45 576.35L453.55 576.35L451 581.45Z" fill="#fff0c0" stroke="#ee9020" stroke-width="1.15"/>
<path d="M457.25 573.95L462.35 573.95L459.8 579.05Z" fill="#fff0c0" stroke="#ee9020" stroke-width="1.15"/>
<path d="M461.65 575.15L466.75 575.15L464.2 580.25Z" fill="#fff0c0" stroke="#ee9020" stroke-width="1.15"/>
<path d="M466.05 573.95L471.15 573.95L468.6 579.05Z" fill="#fff0c0" stroke="#ee9020" stroke-width="1.15"/>
<path d="M479.25 575.15L484.35 575.15L481.8 580.25Z" fill="#fff0c0" stroke="#ee9020" stroke-width="1.15"/>
<path d="M452.85 580.35L457.95 580.35L455.4 585.45Z" fill="#fff0c0" stroke="#ee9020" stroke-width="1.15"/>
<path d="M457.25 581.45L462.35 581.45L459.8 586.55Z" fill="#fff0c0" stroke="#ee9020" stroke-width="1.15"/>
<path d="M461.65 583.85L466.75 583.85L464.2 588.95Z" fill="#fff0c0" stroke="#ee9020" stroke-width="1.15"/>
<path d="M466.05 582.65L471.15 582.65L468.6 587.75Z" fill="#fff0c0" stroke="#ee9020" stroke-width="1.15"/>
<path d="M470.45 580.35L475.55 580.35L473 585.45Z" fill="#fff0c0" stroke="#ee9020" stroke-width="1.15"/>
<path d="M452.85 588.45L457.95 588.45L455.4 593.55Z" fill="#fff0c0" stroke="#ee9020" stroke-width="1.15"/>
<path d="M457.25 591.85L462.35 591.85L459.8 596.95Z" fill="#fff0c0" stroke="#ee9020" stroke-width="1.15"/>
<path d="M461.65 593.65L466.75 593.65L464.2 598.75Z" fill="#fff0c0" stroke="#ee9020" stroke-width="1.15"/>
<path d="M466.05 592.45L471.15 592.45L468.6 597.55Z" fill="#fff0c0" stroke="#ee9020" stroke-width="1.15"/>
<path d="M470.45 591.25L475.55 591.25L473 596.35Z" fill="#fff0c0" stroke="#ee9020" stroke-width="1.15"/>
<path d="M439.65 593.65L444.75 593.65L442.2 598.75Z" fill="#fff0c0" stroke="#ee9020" stroke-width="1.15"/>
<path d="M483.65 595.55L488.75 595.55L486.2 600.65Z" fill="#fff0c0" stroke="#ee9020" stroke-width="1.15"/>
<path d="M444.05 599.35L449.15 599.35L446.6 604.45Z" fill="#fff0c0" stroke="#ee9020" stroke-width="1.15"/>
<path d="M448.45 600.15L453.55 600.15L451 605.25Z" fill="#fff0c0" stroke="#ee9020" stroke-width="1.15"/>
<path d="M452.85 601.35L457.95 601.35L455.4 606.45Z" fill="#fff0c0" stroke="#ee9020" stroke-width="1.15"/>
<path d="M457.25 602.45L462.35 602.45L459.8 607.55Z" fill="#fff0c0" stroke="#ee9020" stroke-width="1.15"/>
<path d="M461.65 603.25L466.75 603.25L464.2 608.35Z" fill="#fff0c0" stroke="#ee9020" stroke-width="1.15"/>
<path d="M466.05 602.45L471.15 602.45L468.6 607.55Z" fill="#fff0c0" stroke="#ee9020" stroke-width="1.15"/>
<path d="M470.45 601.35L475.55 601.35L473 606.45Z" fill="#fff0c0" stroke="#ee9020" stroke-width="1.15"/>
<path d="M474.85 600.15L479.95 600.15L477.4 605.25Z" fill="#fff0c0" stroke="#ee9020" stroke-width="1.15"/>
<path d="M479.25 598.95L484.35 598.95L481.8 604.05Z" fill="#fff0c0" stroke="#ee9020" stroke-width="1.15"/>
<path d="M444.05 607.85L449.15 607.85L446.6 612.95Z" fill="#fff0c0" stroke="#ee9020" stroke-width="1.15"/>
<path d="M448.45 609.05L453.55 609.05L451 614.15Z" fill="#fff0c0" stroke="#ee9020" stroke-width="1.15"/>
<path d="M479.25 608.25L484.35 608.25L481.8 613.35Z" fill="#fff0c0" stroke="#ee9020" stroke-width="1.15"/>
<path d="M435.25 612.85L440.35 612.85L437.8 617.95Z" fill="#fff0c0" stroke="#ee9020" stroke-width="1.15"/>
<path d="M439.65 613.35L444.75 613.35L442.2 618.45Z" fill="#fff0c0" stroke="#ee9020" stroke-width="1.15"/>
<path d="M444.05 614.35L449.15 614.35L446.6 619.45Z" fill="#fff0c0" stroke="#ee9020" stroke-width="1.15"/>
<path d="M448.45 614.35L453.55 614.35L451 619.45Z" fill="#fff0c0" stroke="#ee9020" stroke-width="1.15"/>
<path d="M452.85 613.35L457.95 613.35L455.4 618.45Z" fill="#fff0c0" stroke="#ee9020" stroke-width="1.15"/>
<path d="M457.25 613.35L462.35 613.35L459.8 618.45Z" fill="#fff0c0" stroke="#ee9020" stroke-width="1.15"/>
<path d="M461.65 613.35L466.75 613.35L464.2 618.45Z" fill="#fff0c0" stroke="#ee9020" stroke-width="1.15"/>
<path d="M466.05 613.35L471.15 613.35L468.6 618.45Z" fill="#fff0c0" stroke="#ee9020" stroke-width="1.15"/>
<path d="M470.45 613.65L475.55 613.65L473 618.75Z" fill="#fff0c0" stroke="#ee9020" stroke-width="1.15"/>
<path d="M474.85 613.65L479.95 613.65L477.4 618.75Z" fill="#fff0c0" stroke="#ee9020" stroke-width="1.15"/>
<path d="M479.25 613.85L484.35 613.85L481.8 618.95Z" fill="#fff0c0" stroke="#ee9020" stroke-width="1.15"/>
<path d="M483.65 614.35L488.75 614.35L486.2 619.45Z" fill="#fff0c0" stroke="#ee9020" stroke-width="1.15"/>
<path d="M488.05 613.65L493.15 613.65L490.6 618.75Z" fill="#fff0c0" stroke="#ee9020" stroke-width="1.15"/>
<path d="M492.45 612.55L497.55 612.55L495 617.65Z" fill="#fff0c0" stroke="#ee9020" stroke-width="1.15"/>
<path d="M448.45 618.15L453.55 618.15L451 623.25Z" fill="#fff0c0" stroke="#ee9020" stroke-width="1.15"/>
<path d="M452.85 618.45L457.95 618.45L455.4 623.55Z" fill="#fff0c0" stroke="#ee9020" stroke-width="1.15"/>
<path d="M457.25 618.75L462.35 618.75L459.8 623.85Z" fill="#fff0c0" stroke="#ee9020" stroke-width="1.15"/>
<path d="M461.65 618.85L466.75 618.85L464.2 623.95Z" fill="#fff0c0" stroke="#ee9020" stroke-width="1.15"/>
<path d="M466.05 618.85L471.15 618.85L468.6 623.95Z" fill="#fff0c0" stroke="#ee9020" stroke-width="1.15"/>
<path d="M470.45 618.75L475.55 618.75L473 623.85Z" fill="#fff0c0" stroke="#ee9020" stroke-width="1.15"/>
<path d="M474.85 618.45L479.95 618.45L477.4 623.55Z" fill="#fff0c0" stroke="#ee9020" stroke-width="1.15"/>
<path d="M479.25 618.15L484.35 618.15L481.8 623.25Z" fill="#fff0c0" stroke="#ee9020" stroke-width="1.15"/>
<path d="M452.85 622.45L457.95 622.45L455.4 627.55Z" fill="#fff0c0" stroke="#ee9020" stroke-width="1.15"/>
<path d="M457.25 622.75L462.35 622.75L459.8 627.85Z" fill="#fff0c0" stroke="#ee9020" stroke-width="1.15"/>
<path d="M461.65 622.95L466.75 622.95L464.2 628.05Z" fill="#fff0c0" stroke="#ee9020" stroke-width="1.15"/>
<path d="M466.05 622.95L471.15 622.95L468.6 628.05Z" fill="#fff0c0" stroke="#ee9020" stroke-width="1.15"/>
<path d="M470.45 622.75L475.55 622.75L473 627.85Z" fill="#fff0c0" stroke="#ee9020" stroke-width="1.15"/>
<path d="M474.85 622.45L479.95 622.45L477.4 627.55Z" fill="#fff0c0" stroke="#ee9020" stroke-width="1.15"/>
<path d="M457.25 626.25L462.35 626.25L459.8 631.35Z" fill="#fff0c0" stroke="#ee9020" stroke-width="1.15"/>
<path d="M461.65 626.65L466.75 626.65L464.2 631.75Z" fill="#fff0c0" stroke="#ee9020" stroke-width="1.15"/>
<path d="M466.05 626.65L471.15 626.65L468.6 631.75Z" fill="#fff0c0" stroke="#ee9020" stroke-width="1.15"/>
<path d="M470.45 626.25L475.55 626.25L473 631.35Z" fill="#fff0c0" stroke="#ee9020" stroke-width="1.15"/>
<path d="M461.65 630.15L466.75 630.15L464.2 635.25Z" fill="#fff0c0" stroke="#ee9020" stroke-width="1.15"/>
<path d="M466.05 630.15L471.15 630.15L468.6 635.25Z" fill="#fff0c0" stroke="#ee9020" stroke-width="1.15"/>
<path d="M439.65 631.35L444.75 631.35L442.2 636.45Z" fill="#fff0c0" stroke="#ee9020" stroke-width="1.15"/>
<path d="M444.05 634.05L449.15 634.05L446.6 639.15Z" fill="#fff0c0" stroke="#ee9020" stroke-width="1.15"/>
<path d="M448.45 635.25L453.55 635.25L451 640.35Z" fill="#fff0c0" stroke="#ee9020" stroke-width="1.15"/>
<path d="M452.85 636.95L457.95 636.95L455.4 642.05Z" fill="#fff0c0" stroke="#ee9020" stroke-width="1.15"/>
<path d="M457.25 638.15L462.35 638.15L459.8 643.25Z" fill="#fff0c0" stroke="#ee9020" stroke-width="1.15"/>
<path d="M461.65 638.65L466.75 638.65L464.2 643.75Z" fill="#fff0c0" stroke="#ee9020" stroke-width="1.15"/>
<path d="M466.05 638.15L471.15 638.15L468.6 643.25Z" fill="#fff0c0" stroke="#ee9020" stroke-width="1.15"/>
<path d="M470.45 636.95L475.55 636.95L473 642.05Z" fill="#fff0c0" stroke="#ee9020" stroke-width="1.15"/>
<path d="M474.85 635.25L479.95 635.25L477.4 640.35Z" fill="#fff0c0" stroke="#ee9020" stroke-width="1.15"/>
<path d="M479.25 634.05L484.35 634.05L481.8 639.15Z" fill="#fff0c0" stroke="#ee9020" stroke-width="1.15"/>
<path d="M483.65 632.35L488.75 632.35L486.2 637.45Z" fill="#fff0c0" stroke="#ee9020" stroke-width="1.15"/>
<path d="M444.05 642.55L449.15 642.55L446.6 647.65Z" fill="#fff0c0" stroke="#ee9020" stroke-width="1.15"/>
<path d="M448.45 643.05L453.55 643.05L451 648.15Z" fill="#fff0c0" stroke="#ee9020" stroke-width="1.15"/>
<path d="M452.85 642.75L457.95 642.75L455.4 647.85Z" fill="#fff0c0" stroke="#ee9020" stroke-width="1.15"/>
<path d="M457.25 643.55L462.35 643.55L459.8 648.65Z" fill="#fff0c0" stroke="#ee9020" stroke-width="1.15"/>
<path d="M461.65 644.05L466.75 644.05L464.2 649.15Z" fill="#fff0c0" stroke="#ee9020" stroke-width="1.15"/>
<path d="M466.05 643.35L471.15 643.35L468.6 648.45Z" fill="#fff0c0" stroke="#ee9020" stroke-width="1.15"/>
<path d="M470.45 642.75L475.55 642.75L473 647.85Z" fill="#fff0c0" stroke="#ee9020" stroke-width="1.15"/>
<path d="M474.85 642.15L479.95 642.15L477.4 647.25Z" fill="#fff0c0" stroke="#ee9020" stroke-width="1.15"/>
<path d="M479.25 641.65L484.35 641.65L481.8 646.75Z" fill="#fff0c0" stroke="#ee9020" stroke-width="1.15"/>
<path d="M483.65 640.65L488.75 640.65L486.2 645.75Z" fill="#fff0c0" stroke="#ee9020" stroke-width="1.15"/>
<path d="M448.45 645.45L453.55 645.45L451 650.55Z" fill="#fff0c0" stroke="#ee9020" stroke-width="1.15"/>
<path d="M452.85 646.85L457.95 646.85L455.4 651.95Z" fill="#fff0c0" stroke="#ee9020" stroke-width="1.15"/>
<path d="M457.25 647.85L462.35 647.85L459.8 652.95Z" fill="#fff0c0" stroke="#ee9020" stroke-width="1.15"/>
<path d="M461.65 649.35L466.75 649.35L464.2 654.45Z" fill="#fff0c0" stroke="#ee9020" stroke-width="1.15"/>
<path d="M466.05 648.35L471.15 648.35L468.6 653.45Z" fill="#fff0c0" stroke="#ee9020" stroke-width="1.15"/>
<path d="M470.45 647.35L475.55 647.35L473 652.45Z" fill="#fff0c0" stroke="#ee9020" stroke-width="1.15"/>
<path d="M474.85 646.45L479.95 646.45L477.4 651.55Z" fill="#fff0c0" stroke="#ee9020" stroke-width="1.15"/>
<path d="M439.65 652.85L444.75 652.85L442.2 657.95Z" fill="#fff0c0" stroke="#ee9020" stroke-width="1.15"/>
<path d="M444.05 654.35L449.15 654.35L446.6 659.45Z" fill="#fff0c0" stroke="#ee9020" stroke-width="1.15"/>
<path d="M448.45 655.55L453.55 655.55L451 660.65Z" fill="#fff0c0" stroke="#ee9020" stroke-width="1.15"/>
<path d="M452.85 656.35L457.95 656.35L455.4 661.45Z" fill="#fff0c0" stroke="#ee9020" stroke-width="1.15"/>
<path d="M457.25 656.85L462.35 656.85L459.8 661.95Z" fill="#fff0c0" stroke="#ee9020" stroke-width="1.15"/>
<path d="M461.65 657.45L466.75 657.45L464.2 662.55Z" fill="#fff0c0" stroke="#ee9020" stroke-width="1.15"/>
<path d="M466.05 656.85L471.15 656.85L468.6 661.95Z" fill="#fff0c0" stroke="#ee9020" stroke-width="1.15"/>
<path d="M470.45 656.35L475.55 656.35L473 661.45Z" fill="#fff0c0" stroke="#ee9020" stroke-width="1.15"/>
<path d="M474.85 655.85L479.95 655.85L477.4 660.95Z" fill="#fff0c0" stroke="#ee9020" stroke-width="1.15"/>
<path d="M479.25 655.05L484.35 655.05L481.8 660.15Z" fill="#fff0c0" stroke="#ee9020" stroke-width="1.15"/>
<path d="M483.65 654.05L488.75 654.05L486.2 659.15Z" fill="#fff0c0" stroke="#ee9020" stroke-width="1.15"/>
<path d="M488.05 652.85L493.15 652.85L490.6 657.95Z" fill="#fff0c0" stroke="#ee9020" stroke-width="1.15"/>
<path d="M435.25 658.85L440.35 658.85L437.8 663.95Z" fill="#fff0c0" stroke="#ee9020" stroke-width="1.15"/>
<path d="M439.65 659.65L444.75 659.65L442.2 664.75Z" fill="#fff0c0" stroke="#ee9020" stroke-width="1.15"/>
<path d="M444.05 660.15L449.15 660.15L446.6 665.25Z" fill="#fff0c0" stroke="#ee9020" stroke-width="1.15"/>
<path d="M448.45 660.85L453.55 660.85L451 665.95Z" fill="#fff0c0" stroke="#ee9020" stroke-width="1.15"/>
<path d="M452.85 661.15L457.95 661.15L455.4 666.25Z" fill="#fff0c0" stroke="#ee9020" stroke-width="1.15"/>
<path d="M457.25 661.55L462.35 661.55L459.8 666.65Z" fill="#fff0c0" stroke="#ee9020" stroke-width="1.15"/>
<path d="M461.65 661.55L466.75 661.55L464.2 666.65Z" fill="#fff0c0" stroke="#ee9020" stroke-width="1.15"/>
<path d="M466.05 661.55L471.15 661.55L468.6 666.65Z" fill="#fff0c0" stroke="#ee9020" stroke-width="1.15"/>
<path d="M470.45 661.15L475.55 661.15L473 666.25Z" fill="#fff0c0" stroke="#ee9020" stroke-width="1.15"/>
<path d="M474.85 660.65L479.95 660.65L477.4 665.75Z" fill="#fff0c0" stroke="#ee9020" stroke-width="1.15"/>
<path d="M479.25 660.45L484.35 660.45L481.8 665.55Z" fill="#fff0c0" stroke="#ee9020" stroke-width="1.15"/>
<path d="M483.65 659.85L488.75 659.85L486.2 664.95Z" fill="#fff0c0" stroke="#ee9020" stroke-width="1.15"/>
<path d="M488.05 659.25L493.15 659.25L490.6 664.35Z" fill="#fff0c0" stroke="#ee9020" stroke-width="1.15"/>
<path d="M452.85 667.95L457.95 667.95L455.4 673.05Z" fill="#fff0c0" stroke="#ee9020" stroke-width="1.15"/>
<path d="M457.25 667.95L462.35 667.95L459.8 673.05Z" fill="#fff0c0" stroke="#ee9020" stroke-width="1.15"/>
<path d="M461.65 667.95L466.75 667.95L464.2 673.05Z" fill="#fff0c0" stroke="#ee9020" stroke-width="1.15"/>
<path d="M466.05 667.95L471.15 667.95L468.6 673.05Z" fill="#fff0c0" stroke="#ee9020" stroke-width="1.15"/>
<path d="M470.45 667.95L475.55 667.95L473 673.05Z" fill="#fff0c0" stroke="#ee9020" stroke-width="1.15"/>
<line x1="80" y1="394.2" x2="80" y2="672.1" stroke="#111" stroke-width="1.6"/>
<line x1="75.3" y1="671.3" x2="508.5" y2="671.3" stroke="#111" stroke-width="1.35"/>
</svg>
</body></html>
